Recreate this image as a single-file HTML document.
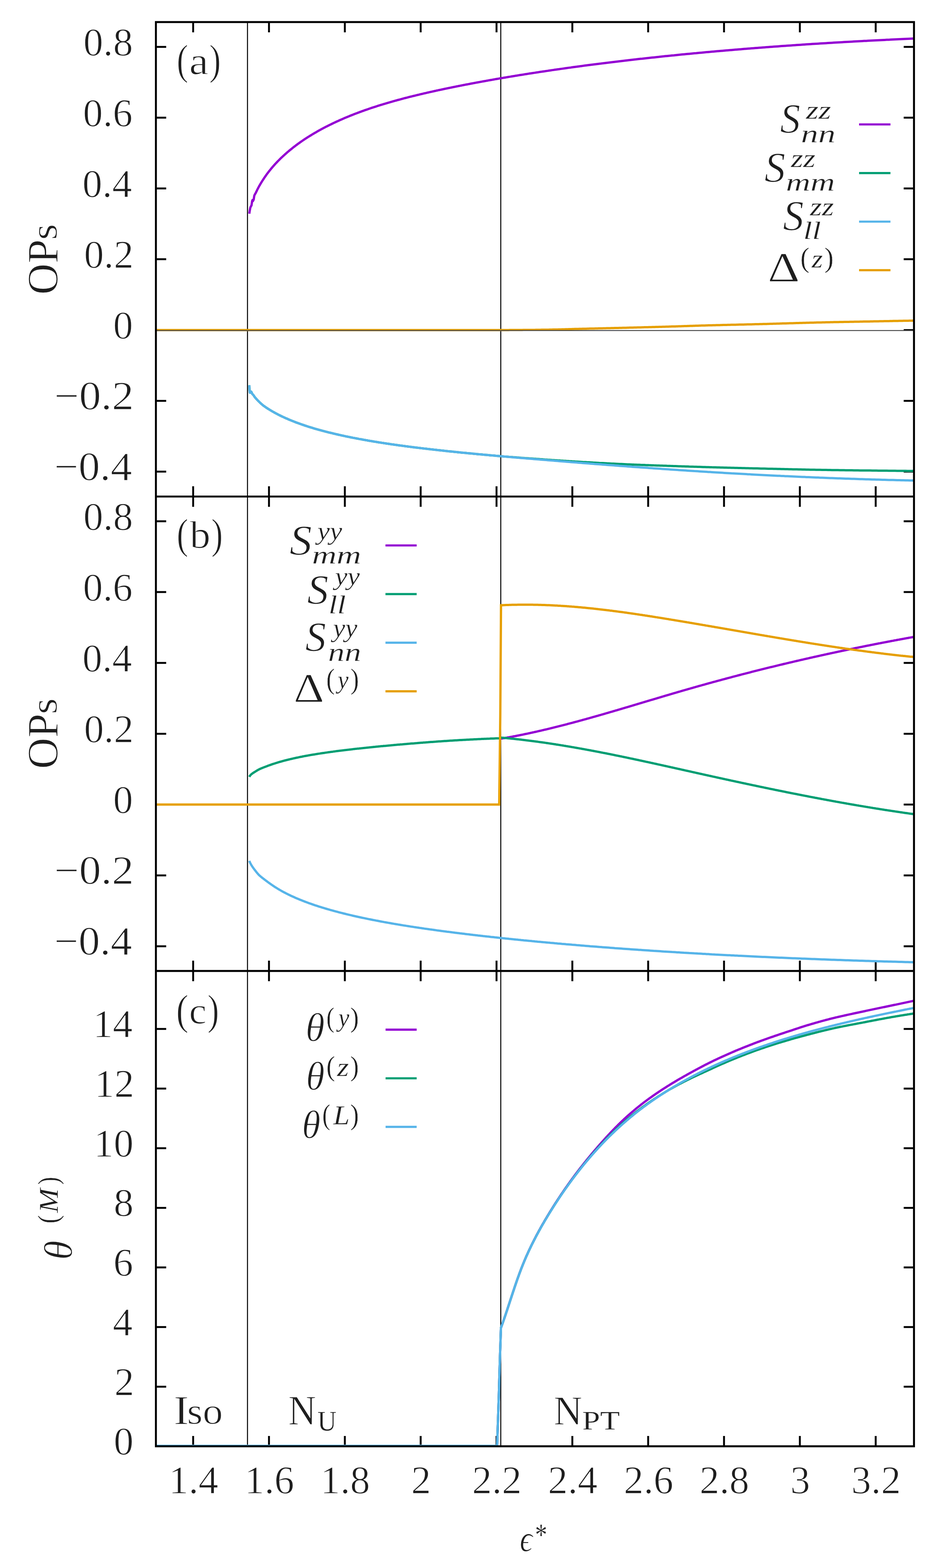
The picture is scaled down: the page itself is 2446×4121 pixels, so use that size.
<!DOCTYPE html><html><head><meta charset="utf-8"><style>html,body{margin:0;padding:0;background:#fff;}svg{display:block;}text{font-family:"Liberation Serif",serif;fill:#1e1e1e;stroke:#fff;font-kerning:none;}</style></head><body>
<svg xmlns="http://www.w3.org/2000/svg" width="2446" height="4121" viewBox="0 0 2446 4121">
<rect x="0" y="0" width="2446" height="4121" fill="#fff"/>
<path d="M507.5,58.0 V85.0 M507.5,1305.0 V1278.0 M507.5,1305.0 V1332.0 M507.5,2551.8 V2524.8 M507.5,2551.8 V2578.8 M507.5,3801.1 V3774.1 M706.7,58.0 V85.0 M706.7,1305.0 V1278.0 M706.7,1305.0 V1332.0 M706.7,2551.8 V2524.8 M706.7,2551.8 V2578.8 M706.7,3801.1 V3774.1 M906.0,58.0 V85.0 M906.0,1305.0 V1278.0 M906.0,1305.0 V1332.0 M906.0,2551.8 V2524.8 M906.0,2551.8 V2578.8 M906.0,3801.1 V3774.1 M1105.2,58.0 V85.0 M1105.2,1305.0 V1278.0 M1105.2,1305.0 V1332.0 M1105.2,2551.8 V2524.8 M1105.2,2551.8 V2578.8 M1105.2,3801.1 V3774.1 M1304.5,58.0 V85.0 M1304.5,1305.0 V1278.0 M1304.5,1305.0 V1332.0 M1304.5,2551.8 V2524.8 M1304.5,2551.8 V2578.8 M1304.5,3801.1 V3774.1 M1503.7,58.0 V85.0 M1503.7,1305.0 V1278.0 M1503.7,1305.0 V1332.0 M1503.7,2551.8 V2524.8 M1503.7,2551.8 V2578.8 M1503.7,3801.1 V3774.1 M1702.9,58.0 V85.0 M1702.9,1305.0 V1278.0 M1702.9,1305.0 V1332.0 M1702.9,2551.8 V2524.8 M1702.9,2551.8 V2578.8 M1702.9,3801.1 V3774.1 M1902.2,58.0 V85.0 M1902.2,1305.0 V1278.0 M1902.2,1305.0 V1332.0 M1902.2,2551.8 V2524.8 M1902.2,2551.8 V2578.8 M1902.2,3801.1 V3774.1 M2101.4,58.0 V85.0 M2101.4,1305.0 V1278.0 M2101.4,1305.0 V1332.0 M2101.4,2551.8 V2524.8 M2101.4,2551.8 V2578.8 M2101.4,3801.1 V3774.1 M2300.7,58.0 V85.0 M2300.7,1305.0 V1278.0 M2300.7,1305.0 V1332.0 M2300.7,2551.8 V2524.8 M2300.7,2551.8 V2578.8 M2300.7,3801.1 V3774.1 M409.6,1239.5 H436.6 M2401.3,1239.5 H2374.3 M409.6,2486.9 H436.6 M2401.3,2486.9 H2374.3 M409.6,1053.5 H436.6 M2401.3,1053.5 H2374.3 M409.6,2300.8 H436.6 M2401.3,2300.8 H2374.3 M409.6,867.4 H436.6 M2401.3,867.4 H2374.3 M409.6,2114.6 H436.6 M2401.3,2114.6 H2374.3 M409.6,681.3 H436.6 M2401.3,681.3 H2374.3 M409.6,1928.4 H436.6 M2401.3,1928.4 H2374.3 M409.6,495.3 H436.6 M2401.3,495.3 H2374.3 M409.6,1742.3 H436.6 M2401.3,1742.3 H2374.3 M409.6,309.2 H436.6 M2401.3,309.2 H2374.3 M409.6,1556.1 H436.6 M2401.3,1556.1 H2374.3 M409.6,123.2 H436.6 M2401.3,123.2 H2374.3 M409.6,1370.0 H436.6 M2401.3,1370.0 H2374.3 M409.6,3644.4 H436.6 M2401.3,3644.4 H2374.3 M409.6,3487.7 H436.6 M2401.3,3487.7 H2374.3 M409.6,3331.1 H436.6 M2401.3,3331.1 H2374.3 M409.6,3174.4 H436.6 M2401.3,3174.4 H2374.3 M409.6,3017.7 H436.6 M2401.3,3017.7 H2374.3 M409.6,2861.0 H436.6 M2401.3,2861.0 H2374.3 M409.6,2704.3 H436.6 M2401.3,2704.3 H2374.3" stroke="#000" stroke-width="5.0" fill="none"/>
<line x1="650.2" y1="58.0" x2="650.2" y2="3801.1" stroke="#000" stroke-width="2.6"/>
<line x1="1315.7" y1="58.0" x2="1315.7" y2="3801.1" stroke="#000" stroke-width="2.6"/>
<path d="M655.0,561.6 L655.5,557.8 L656.1,554.0 L656.8,550.3 L657.4,547.0 L658.1,544.5 L659.2,542.6 L660.8,539.7 L661.2,536.9 L661.7,533.8 L662.1,530.7 L662.5,528.1 L663.5,525.7 L664.4,528.5 L666.4,524.8 L667.0,521.4 L667.5,517.9 L668.0,514.9 L668.6,512.9 L669.7,510.9 L670.9,508.9 L672.1,506.6 L673.3,504.1 L674.6,501.5 L675.9,498.8 L677.3,496.0 L678.7,493.4 L680.1,490.7 L681.5,488.1 L683.0,485.6 L684.5,483.0 L686.1,480.4 L687.7,477.8 L689.3,475.2 L691.0,472.6 L692.7,470.0 L694.4,467.4 L696.2,464.8 L698.0,462.2 L699.8,459.6 L701.7,457.0 L703.6,454.4 L705.6,451.9 L707.5,449.4 L709.6,446.8 L711.6,444.3 L713.7,441.8 L715.8,439.3 L718.0,436.8 L720.2,434.3 L722.4,431.8 L724.7,429.3 L727.0,426.9 L729.3,424.4 L731.7,422.0 L734.1,419.6 L736.5,417.2 L739.0,414.7 L741.5,412.4 L744.1,410.0 L746.7,407.6 L749.3,405.2 L751.9,402.9 L754.6,400.5 L757.4,398.2 L760.1,395.9 L762.9,393.6 L765.8,391.3 L768.6,389.0 L771.5,386.7 L774.5,384.5 L777.4,382.2 L780.4,380.0 L783.5,377.7 L786.6,375.5 L789.7,373.3 L792.8,371.1 L796.0,368.9 L799.2,366.8 L802.5,364.6 L805.8,362.5 L809.1,360.3 L812.5,358.2 L815.9,356.1 L817.6,355.1 L819.3,354.0 L821.0,353.0 L822.8,351.9 L824.5,350.9 L826.3,349.9 L828.0,348.8 L829.8,347.8 L831.6,346.8 L833.4,345.7 L835.2,344.7 L837.0,343.7 L838.8,342.7 L840.7,341.7 L842.5,340.7 L844.3,339.7 L846.2,338.7 L848.0,337.7 L849.9,336.7 L851.8,335.7 L853.7,334.7 L855.6,333.7 L857.5,332.7 L859.4,331.8 L861.3,330.8 L863.3,329.8 L865.2,328.8 L867.2,327.9 L869.1,326.9 L871.1,326.0 L873.1,325.0 L875.1,324.0 L877.1,323.1 L879.1,322.1 L881.1,321.2 L883.1,320.3 L885.1,319.3 L887.2,318.4 L889.2,317.5 L891.3,316.5 L893.3,315.6 L895.4,314.7 L897.5,313.8 L899.6,312.9 L901.7,311.9 L903.8,311.0 L905.9,310.1 L908.0,309.2 L910.2,308.3 L912.3,307.4 L914.5,306.5 L916.6,305.7 L918.8,304.8 L921.0,303.9 L923.2,303.0 L925.4,302.1 L927.6,301.3 L929.8,300.4 L932.0,299.5 L934.3,298.7 L936.5,297.8 L938.8,297.0 L941.0,296.1 L943.3,295.3 L945.6,294.4 L947.9,293.6 L950.2,292.7 L952.5,291.9 L954.8,291.1 L957.1,290.2 L959.4,289.4 L961.8,288.6 L964.1,287.8 L966.5,287.0 L968.8,286.2 L971.2,285.3 L973.6,284.5 L976.0,283.7 L978.4,282.9 L980.8,282.1 L983.2,281.4 L985.7,280.6 L988.1,279.8 L990.5,279.0 L993.0,278.2 L995.5,277.4 L997.9,276.7 L1000.4,275.9 L1002.9,275.1 L1005.4,274.4 L1007.9,273.6 L1010.4,272.8 L1013.0,272.1 L1015.5,271.3 L1018.0,270.6 L1020.6,269.8 L1023.2,269.1 L1025.7,268.4 L1028.3,267.6 L1030.9,266.9 L1033.5,266.1 L1036.1,265.4 L1038.7,264.7 L1041.3,264.0 L1044.0,263.2 L1046.6,262.5 L1049.3,261.8 L1051.9,261.1 L1054.6,260.4 L1057.3,259.7 L1059.9,258.9 L1062.6,258.2 L1065.3,257.5 L1068.1,256.8 L1070.8,256.1 L1073.5,255.4 L1076.2,254.7 L1079.0,254.0 L1081.7,253.4 L1084.5,252.7 L1087.3,252.0 L1090.1,251.3 L1092.9,250.6 L1095.7,249.9 L1098.5,249.3 L1101.3,248.6 L1104.1,247.9 L1107.0,247.2 L1109.8,246.6 L1112.6,245.9 L1115.5,245.2 L1118.4,244.6 L1121.3,243.9 L1124.2,243.2 L1127.0,242.6 L1130.0,241.9 L1132.9,241.3 L1135.8,240.6 L1138.7,240.0 L1141.7,239.3 L1144.6,238.7 L1147.6,238.0 L1150.5,237.4 L1153.5,236.7 L1156.5,236.1 L1159.5,235.5 L1162.5,234.8 L1165.5,234.2 L1168.5,233.5 L1171.6,232.9 L1174.6,232.3 L1177.7,231.6 L1180.7,231.0 L1183.8,230.4 L1186.9,229.7 L1189.9,229.1 L1193.0,228.5 L1196.1,227.9 L1199.2,227.2 L1202.4,226.6 L1205.5,226.0 L1208.6,225.4 L1211.8,224.8 L1214.9,224.1 L1218.1,223.5 L1221.3,222.9 L1224.4,222.3 L1227.6,221.7 L1230.8,221.1 L1234.0,220.5 L1237.3,219.8 L1240.5,219.2 L1243.7,218.6 L1247.0,218.0 L1250.2,217.4 L1253.5,216.8 L1256.7,216.2 L1260.0,215.6 L1263.3,215.0 L1266.6,214.4 L1269.9,213.8 L1273.2,213.2 L1276.5,212.6 L1279.9,212.0 L1283.2,211.4 L1286.6,210.8 L1289.9,210.2 L1293.3,209.6 L1296.7,209.0 L1300.0,208.4 L1303.4,207.8 L1306.8,207.2 L1310.2,206.6 L1313.7,206.0 L1317.1,205.5 L1320.5,204.9 L1324.0,204.3 L1327.4,203.7 L1330.9,203.1 L1334.4,202.5 L1337.9,201.9 L1341.3,201.4 L1344.8,200.8 L1348.4,200.2 L1351.9,199.6 L1355.4,199.0 L1358.9,198.5 L1362.5,197.9 L1366.0,197.3 L1369.6,196.7 L1373.2,196.2 L1376.7,195.6 L1380.3,195.0 L1383.9,194.5 L1387.5,193.9 L1391.1,193.3 L1394.8,192.8 L1398.4,192.2 L1402.0,191.6 L1405.7,191.1 L1409.3,190.5 L1413.0,190.0 L1416.7,189.4 L1420.4,188.8 L1424.1,188.3 L1427.8,187.7 L1431.5,187.2 L1435.2,186.6 L1438.9,186.1 L1442.7,185.5 L1446.4,185.0 L1450.2,184.4 L1453.9,183.9 L1457.7,183.3 L1461.5,182.8 L1465.3,182.2 L1469.1,181.7 L1472.9,181.1 L1476.7,180.6 L1480.5,180.1 L1484.4,179.5 L1488.2,179.0 L1492.1,178.4 L1495.9,177.9 L1499.8,177.4 L1503.7,176.8 L1507.6,176.3 L1511.5,175.8 L1515.4,175.3 L1519.3,174.7 L1523.2,174.2 L1527.1,173.7 L1531.1,173.1 L1535.0,172.6 L1539.0,172.1 L1543.0,171.6 L1546.9,171.1 L1550.9,170.5 L1554.9,170.0 L1558.9,169.5 L1562.9,169.0 L1567.0,168.5 L1571.0,168.0 L1575.0,167.5 L1579.1,167.0 L1583.1,166.4 L1587.2,165.9 L1591.3,165.4 L1595.3,164.9 L1599.4,164.4 L1603.5,163.9 L1607.6,163.4 L1611.8,162.9 L1615.9,162.4 L1620.0,161.9 L1624.2,161.4 L1628.3,160.9 L1632.5,160.4 L1636.7,159.9 L1640.8,159.5 L1645.0,159.0 L1649.2,158.5 L1653.4,158.0 L1657.7,157.5 L1661.9,157.0 L1666.1,156.5 L1670.4,156.1 L1674.6,155.6 L1678.9,155.1 L1683.1,154.6 L1687.4,154.2 L1691.7,153.7 L1696.0,153.2 L1700.3,152.7 L1704.6,152.3 L1708.9,151.8 L1713.3,151.3 L1717.6,150.9 L1722.0,150.4 L1726.3,149.9 L1730.7,149.5 L1735.0,149.0 L1739.4,148.5 L1743.8,148.1 L1748.2,147.6 L1752.6,147.2 L1757.1,146.7 L1761.5,146.3 L1765.9,145.8 L1770.4,145.4 L1774.8,144.9 L1779.3,144.5 L1783.8,144.0 L1788.2,143.6 L1792.7,143.1 L1797.2,142.7 L1801.7,142.3 L1806.3,141.8 L1810.8,141.4 L1815.3,141.0 L1819.9,140.5 L1824.4,140.1 L1829.0,139.7 L1833.5,139.2 L1838.1,138.8 L1842.7,138.4 L1847.3,137.9 L1851.9,137.5 L1856.5,137.1 L1861.1,136.7 L1865.8,136.3 L1870.4,135.8 L1875.1,135.4 L1879.7,135.0 L1884.4,134.6 L1889.1,134.2 L1893.7,133.8 L1898.4,133.4 L1903.1,133.0 L1907.9,132.6 L1912.6,132.2 L1917.3,131.8 L1922.0,131.4 L1926.8,131.0 L1931.5,130.6 L1936.3,130.2 L1941.1,129.8 L1945.9,129.4 L1950.6,129.0 L1955.4,128.6 L1960.3,128.2 L1965.1,127.8 L1969.9,127.4 L1974.7,127.1 L1979.6,126.7 L1984.4,126.3 L1989.3,125.9 L1994.2,125.5 L1999.0,125.2 L2003.9,124.8 L2008.8,124.4 L2013.7,124.0 L2018.6,123.7 L2023.6,123.3 L2028.5,122.9 L2033.4,122.6 L2038.4,122.2 L2043.4,121.9 L2048.3,121.5 L2053.3,121.1 L2058.3,120.8 L2063.3,120.4 L2068.3,120.1 L2073.3,119.7 L2078.3,119.4 L2083.3,119.0 L2088.4,118.7 L2093.4,118.3 L2098.5,118.0 L2103.5,117.7 L2108.6,117.3 L2113.7,117.0 L2118.8,116.6 L2123.9,116.3 L2129.0,116.0 L2134.1,115.6 L2139.2,115.3 L2144.4,115.0 L2149.5,114.7 L2154.7,114.3 L2159.8,114.0 L2165.0,113.7 L2170.2,113.4 L2175.4,113.1 L2180.6,112.7 L2185.8,112.4 L2191.0,112.1 L2196.2,111.8 L2201.5,111.5 L2206.7,111.2 L2212.0,110.9 L2217.2,110.6 L2222.5,110.3 L2227.8,110.0 L2233.0,109.7 L2238.3,109.4 L2243.6,109.1 L2249.0,108.8 L2254.3,108.5 L2259.6,108.2 L2264.9,107.9 L2270.3,107.6 L2275.7,107.4 L2281.0,107.1 L2286.4,106.8 L2291.8,106.5 L2297.2,106.2 L2302.6,106.0 L2308.0,105.7 L2313.4,105.4 L2318.8,105.2 L2324.3,104.9 L2329.7,104.6 L2335.2,104.4 L2340.6,104.1 L2346.1,103.8 L2351.6,103.6 L2357.1,103.3 L2362.6,103.1 L2368.1,102.8 L2373.6,102.6 L2379.1,102.3 L2384.6,102.1 L2390.2,101.8 L2395.7,101.6 L2401.3,101.3" fill="none" stroke="#9400d3" stroke-width="6.00" stroke-linejoin="round" stroke-linecap="butt"/>
<path d="M655.0,1012.5 L655.3,1018.4 L655.5,1023.2 L655.8,1026.8 L656.1,1029.4 L656.8,1032.2 L658.5,1030.7 L659.6,1029.1 L661.2,1031.3 L662.1,1033.6 L663.0,1035.7 L664.9,1037.3 L666.4,1039.1 L667.5,1040.8 L668.6,1042.6 L670.3,1044.8 L672.1,1046.9 L674.0,1048.9 L675.9,1051.0 L678.0,1053.2 L679.4,1054.6 L680.8,1056.0 L682.3,1057.5 L683.8,1058.9 L685.3,1060.3 L686.9,1061.7 L688.5,1063.1 L690.1,1064.5 L691.8,1065.8 L693.5,1067.1 L695.3,1068.3 L697.1,1069.6 L698.9,1070.9 L700.8,1072.1 L702.7,1073.4 L704.6,1074.6 L706.6,1075.8 L708.6,1077.1 L710.6,1078.3 L712.7,1079.5 L714.8,1080.8 L716.9,1082.0 L719.1,1083.2 L721.3,1084.5 L723.5,1085.7 L725.8,1086.9 L728.2,1088.1 L730.5,1089.4 L732.9,1090.6 L735.3,1091.8 L737.8,1093.0 L740.3,1094.2 L742.8,1095.4 L745.4,1096.6 L748.0,1097.8 L750.6,1099.0 L753.3,1100.1 L756.0,1101.3 L758.7,1102.5 L761.5,1103.7 L764.3,1104.8 L767.2,1106.0 L770.1,1107.1 L773.0,1108.3 L775.9,1109.4 L778.9,1110.6 L782.0,1111.7 L785.0,1112.8 L788.1,1113.9 L791.3,1115.0 L794.4,1116.1 L797.6,1117.2 L800.9,1118.3 L804.1,1119.4 L807.4,1120.5 L810.8,1121.6 L814.2,1122.6 L817.6,1123.7 L821.0,1124.7 L824.5,1125.8 L828.0,1126.8 L831.6,1127.8 L835.2,1128.8 L838.8,1129.9 L842.5,1130.9 L846.2,1131.9 L849.9,1132.9 L853.7,1133.8 L857.5,1134.8 L861.3,1135.8 L865.2,1136.8 L867.2,1137.3 L869.1,1137.7 L871.1,1138.2 L873.1,1138.7 L875.1,1139.2 L877.1,1139.6 L879.1,1140.1 L881.1,1140.6 L883.1,1141.1 L885.1,1141.5 L887.2,1142.0 L889.2,1142.5 L891.3,1142.9 L893.3,1143.4 L895.4,1143.8 L897.5,1144.3 L899.6,1144.8 L901.7,1145.2 L903.8,1145.7 L905.9,1146.1 L908.0,1146.6 L910.2,1147.0 L912.3,1147.5 L914.5,1147.9 L916.6,1148.4 L918.8,1148.8 L921.0,1149.2 L923.2,1149.7 L925.4,1150.1 L927.6,1150.6 L929.8,1151.0 L932.0,1151.4 L934.3,1151.9 L936.5,1152.3 L938.8,1152.7 L941.0,1153.1 L943.3,1153.6 L945.6,1154.0 L947.9,1154.4 L950.2,1154.8 L952.5,1155.3 L954.8,1155.7 L957.1,1156.1 L959.4,1156.5 L961.8,1156.9 L964.1,1157.3 L966.5,1157.8 L968.8,1158.2 L971.2,1158.6 L973.6,1159.0 L976.0,1159.4 L978.4,1159.8 L980.8,1160.2 L983.2,1160.6 L985.7,1161.0 L988.1,1161.4 L990.5,1161.8 L993.0,1162.2 L995.5,1162.6 L997.9,1163.0 L1000.4,1163.4 L1002.9,1163.8 L1005.4,1164.1 L1007.9,1164.5 L1010.4,1164.9 L1013.0,1165.3 L1015.5,1165.7 L1018.0,1166.1 L1020.6,1166.4 L1023.2,1166.8 L1025.7,1167.2 L1028.3,1167.6 L1030.9,1168.0 L1033.5,1168.3 L1036.1,1168.7 L1038.7,1169.1 L1041.3,1169.4 L1044.0,1169.8 L1046.6,1170.2 L1049.3,1170.5 L1051.9,1170.9 L1054.6,1171.3 L1057.3,1171.6 L1059.9,1172.0 L1062.6,1172.3 L1065.3,1172.7 L1068.1,1173.1 L1070.8,1173.4 L1073.5,1173.8 L1076.2,1174.1 L1079.0,1174.5 L1081.7,1174.8 L1084.5,1175.2 L1087.3,1175.5 L1090.1,1175.9 L1092.9,1176.2 L1095.7,1176.6 L1098.5,1176.9 L1101.3,1177.3 L1104.1,1177.6 L1107.0,1177.9 L1109.8,1178.3 L1112.6,1178.6 L1115.5,1179.0 L1118.4,1179.3 L1121.3,1179.6 L1124.2,1180.0 L1127.0,1180.3 L1130.0,1180.6 L1132.9,1181.0 L1135.8,1181.3 L1138.7,1181.6 L1141.7,1182.0 L1144.6,1182.3 L1147.6,1182.6 L1150.5,1183.0 L1153.5,1183.3 L1156.5,1183.6 L1159.5,1183.9 L1162.5,1184.3 L1165.5,1184.6 L1168.5,1184.9 L1171.6,1185.2 L1174.6,1185.6 L1177.7,1185.9 L1180.7,1186.2 L1183.8,1186.5 L1186.9,1186.8 L1189.9,1187.1 L1193.0,1187.5 L1196.1,1187.8 L1199.2,1188.1 L1202.4,1188.4 L1205.5,1188.7 L1208.6,1189.0 L1211.8,1189.4 L1214.9,1189.7 L1218.1,1190.0 L1221.3,1190.3 L1224.4,1190.6 L1227.6,1190.9 L1230.8,1191.2 L1234.0,1191.5 L1237.3,1191.8 L1240.5,1192.1 L1243.7,1192.5 L1247.0,1192.8 L1250.2,1193.1 L1253.5,1193.4 L1256.7,1193.7 L1260.0,1194.0 L1263.3,1194.3 L1266.6,1194.6 L1269.9,1194.9 L1273.2,1195.2 L1276.5,1195.5 L1279.9,1195.8 L1283.2,1196.1 L1286.6,1196.4 L1289.9,1196.7 L1293.3,1197.0 L1296.7,1197.3 L1300.0,1197.6 L1303.4,1197.9 L1306.8,1198.2 L1310.2,1198.5 L1313.7,1198.8 L1317.1,1199.1 L1320.5,1199.4 L1324.0,1199.7 L1327.4,1199.9 L1330.9,1200.2 L1334.4,1200.5 L1337.9,1200.8 L1341.3,1201.0 L1344.8,1201.3 L1348.4,1201.6 L1351.9,1201.8 L1355.4,1202.1 L1358.9,1202.4 L1362.5,1202.6 L1366.0,1202.9 L1369.6,1203.2 L1373.2,1203.4 L1376.7,1203.7 L1380.3,1204.0 L1383.9,1204.2 L1387.5,1204.5 L1391.1,1204.8 L1394.8,1205.0 L1398.4,1205.3 L1402.0,1205.6 L1405.7,1205.8 L1409.3,1206.1 L1413.0,1206.3 L1416.7,1206.6 L1420.4,1206.9 L1424.1,1207.1 L1427.8,1207.4 L1431.5,1207.7 L1435.2,1207.9 L1438.9,1208.2 L1442.7,1208.4 L1446.4,1208.7 L1450.2,1209.0 L1453.9,1209.2 L1457.7,1209.5 L1461.5,1209.7 L1465.3,1210.0 L1469.1,1210.2 L1472.9,1210.5 L1476.7,1210.7 L1480.5,1211.0 L1484.4,1211.2 L1488.2,1211.5 L1492.1,1211.7 L1495.9,1212.0 L1499.8,1212.2 L1503.7,1212.5 L1507.6,1212.7 L1511.5,1213.0 L1515.4,1213.2 L1519.3,1213.4 L1523.2,1213.7 L1527.1,1213.9 L1531.1,1214.2 L1535.0,1214.4 L1539.0,1214.6 L1543.0,1214.9 L1546.9,1215.1 L1550.9,1215.3 L1554.9,1215.5 L1558.9,1215.8 L1562.9,1216.0 L1567.0,1216.2 L1571.0,1216.4 L1575.0,1216.7 L1579.1,1216.9 L1583.1,1217.1 L1587.2,1217.3 L1591.3,1217.5 L1595.3,1217.8 L1599.4,1218.0 L1603.5,1218.2 L1607.6,1218.4 L1611.8,1218.6 L1615.9,1218.8 L1620.0,1219.0 L1624.2,1219.2 L1628.3,1219.4 L1632.5,1219.6 L1636.7,1219.8 L1640.8,1220.0 L1645.0,1220.2 L1649.2,1220.4 L1653.4,1220.5 L1657.7,1220.7 L1661.9,1220.9 L1666.1,1221.1 L1670.4,1221.2 L1674.6,1221.4 L1678.9,1221.6 L1683.1,1221.8 L1687.4,1221.9 L1691.7,1222.1 L1696.0,1222.3 L1700.3,1222.4 L1704.6,1222.6 L1708.9,1222.7 L1713.3,1222.9 L1717.6,1223.1 L1722.0,1223.2 L1726.3,1223.4 L1730.7,1223.5 L1735.0,1223.7 L1739.4,1223.8 L1743.8,1224.0 L1748.2,1224.1 L1752.6,1224.3 L1757.1,1224.4 L1761.5,1224.6 L1765.9,1224.7 L1770.4,1224.9 L1774.8,1225.0 L1779.3,1225.2 L1783.8,1225.4 L1788.2,1225.5 L1792.7,1225.7 L1797.2,1225.8 L1801.7,1226.0 L1806.3,1226.1 L1810.8,1226.3 L1815.3,1226.4 L1819.9,1226.6 L1824.4,1226.7 L1829.0,1226.8 L1833.5,1227.0 L1838.1,1227.1 L1842.7,1227.3 L1847.3,1227.4 L1851.9,1227.5 L1856.5,1227.7 L1861.1,1227.8 L1865.8,1227.9 L1870.4,1228.1 L1875.1,1228.2 L1879.7,1228.3 L1884.4,1228.5 L1889.1,1228.6 L1893.7,1228.7 L1898.4,1228.8 L1903.1,1229.0 L1907.9,1229.1 L1912.6,1229.2 L1917.3,1229.3 L1922.0,1229.4 L1926.8,1229.6 L1931.5,1229.7 L1936.3,1229.8 L1941.1,1229.9 L1945.9,1230.1 L1950.6,1230.2 L1955.4,1230.3 L1960.3,1230.4 L1965.1,1230.5 L1969.9,1230.7 L1974.7,1230.8 L1979.6,1230.9 L1984.4,1231.0 L1989.3,1231.1 L1994.2,1231.3 L1999.0,1231.4 L2003.9,1231.5 L2008.8,1231.6 L2013.7,1231.7 L2018.6,1231.9 L2023.6,1232.0 L2028.5,1232.1 L2033.4,1232.2 L2038.4,1232.3 L2043.4,1232.5 L2048.3,1232.6 L2053.3,1232.7 L2058.3,1232.8 L2063.3,1232.9 L2068.3,1233.0 L2073.3,1233.2 L2078.3,1233.3 L2083.3,1233.4 L2088.4,1233.5 L2093.4,1233.6 L2098.5,1233.7 L2103.5,1233.8 L2108.6,1233.9 L2113.7,1234.0 L2118.8,1234.2 L2123.9,1234.3 L2129.0,1234.4 L2134.1,1234.5 L2139.2,1234.6 L2144.4,1234.7 L2149.5,1234.8 L2154.7,1234.8 L2159.8,1234.9 L2165.0,1235.0 L2170.2,1235.1 L2175.4,1235.2 L2180.6,1235.3 L2185.8,1235.4 L2191.0,1235.5 L2196.2,1235.5 L2201.5,1235.6 L2206.7,1235.7 L2212.0,1235.8 L2217.2,1235.8 L2222.5,1235.9 L2227.8,1236.0 L2233.0,1236.0 L2238.3,1236.1 L2243.6,1236.2 L2249.0,1236.2 L2254.3,1236.3 L2259.6,1236.4 L2264.9,1236.4 L2270.3,1236.5 L2275.7,1236.5 L2281.0,1236.6 L2286.4,1236.6 L2291.8,1236.7 L2297.2,1236.8 L2302.6,1236.8 L2308.0,1236.9 L2313.4,1237.0 L2318.8,1237.0 L2324.3,1237.1 L2329.7,1237.1 L2335.2,1237.2 L2340.6,1237.2 L2346.1,1237.3 L2351.6,1237.3 L2357.1,1237.4 L2362.6,1237.4 L2368.1,1237.5 L2373.6,1237.6 L2379.1,1237.6 L2384.6,1237.7 L2390.2,1237.7 L2395.7,1237.8 L2401.3,1237.8" fill="none" stroke="#009e73" stroke-width="6.00" stroke-linejoin="round" stroke-linecap="butt"/>
<path d="M655.0,1012.5 L655.3,1018.4 L655.5,1023.2 L655.8,1026.8 L656.1,1029.4 L656.8,1032.2 L658.5,1030.7 L659.6,1029.1 L661.2,1031.3 L662.1,1033.6 L663.0,1035.7 L664.9,1037.3 L666.4,1039.1 L667.5,1040.8 L668.6,1042.6 L670.3,1044.8 L672.1,1046.9 L674.0,1048.9 L675.9,1051.0 L678.0,1053.2 L679.4,1054.6 L680.8,1056.0 L682.3,1057.5 L683.8,1058.9 L685.3,1060.3 L686.9,1061.7 L688.5,1063.1 L690.1,1064.5 L691.8,1065.8 L693.5,1067.1 L695.3,1068.3 L697.1,1069.6 L698.9,1070.9 L700.8,1072.1 L702.7,1073.4 L704.6,1074.6 L706.6,1075.8 L708.6,1077.1 L710.6,1078.3 L712.7,1079.5 L714.8,1080.8 L716.9,1082.0 L719.1,1083.2 L721.3,1084.5 L723.5,1085.7 L725.8,1086.9 L728.2,1088.1 L730.5,1089.4 L732.9,1090.6 L735.3,1091.8 L737.8,1093.0 L740.3,1094.2 L742.8,1095.4 L745.4,1096.6 L748.0,1097.8 L750.6,1099.0 L753.3,1100.1 L756.0,1101.3 L758.7,1102.5 L761.5,1103.7 L764.3,1104.8 L767.2,1106.0 L770.1,1107.1 L773.0,1108.3 L775.9,1109.4 L778.9,1110.6 L782.0,1111.7 L785.0,1112.8 L788.1,1113.9 L791.3,1115.0 L794.4,1116.1 L797.6,1117.2 L800.9,1118.3 L804.1,1119.4 L807.4,1120.5 L810.8,1121.6 L814.2,1122.6 L817.6,1123.7 L821.0,1124.7 L824.5,1125.8 L828.0,1126.8 L831.6,1127.8 L835.2,1128.8 L838.8,1129.9 L842.5,1130.9 L846.2,1131.9 L849.9,1132.9 L853.7,1133.8 L857.5,1134.8 L861.3,1135.8 L865.2,1136.8 L867.2,1137.3 L869.1,1137.7 L871.1,1138.2 L873.1,1138.7 L875.1,1139.2 L877.1,1139.6 L879.1,1140.1 L881.1,1140.6 L883.1,1141.1 L885.1,1141.5 L887.2,1142.0 L889.2,1142.5 L891.3,1142.9 L893.3,1143.4 L895.4,1143.8 L897.5,1144.3 L899.6,1144.8 L901.7,1145.2 L903.8,1145.7 L905.9,1146.1 L908.0,1146.6 L910.2,1147.0 L912.3,1147.5 L914.5,1147.9 L916.6,1148.4 L918.8,1148.8 L921.0,1149.2 L923.2,1149.7 L925.4,1150.1 L927.6,1150.6 L929.8,1151.0 L932.0,1151.4 L934.3,1151.9 L936.5,1152.3 L938.8,1152.7 L941.0,1153.1 L943.3,1153.6 L945.6,1154.0 L947.9,1154.4 L950.2,1154.8 L952.5,1155.3 L954.8,1155.7 L957.1,1156.1 L959.4,1156.5 L961.8,1156.9 L964.1,1157.3 L966.5,1157.8 L968.8,1158.2 L971.2,1158.6 L973.6,1159.0 L976.0,1159.4 L978.4,1159.8 L980.8,1160.2 L983.2,1160.6 L985.7,1161.0 L988.1,1161.4 L990.5,1161.8 L993.0,1162.2 L995.5,1162.6 L997.9,1163.0 L1000.4,1163.4 L1002.9,1163.8 L1005.4,1164.1 L1007.9,1164.5 L1010.4,1164.9 L1013.0,1165.3 L1015.5,1165.7 L1018.0,1166.1 L1020.6,1166.4 L1023.2,1166.8 L1025.7,1167.2 L1028.3,1167.6 L1030.9,1168.0 L1033.5,1168.3 L1036.1,1168.7 L1038.7,1169.1 L1041.3,1169.4 L1044.0,1169.8 L1046.6,1170.2 L1049.3,1170.5 L1051.9,1170.9 L1054.6,1171.3 L1057.3,1171.6 L1059.9,1172.0 L1062.6,1172.3 L1065.3,1172.7 L1068.1,1173.1 L1070.8,1173.4 L1073.5,1173.8 L1076.2,1174.1 L1079.0,1174.5 L1081.7,1174.8 L1084.5,1175.2 L1087.3,1175.5 L1090.1,1175.9 L1092.9,1176.2 L1095.7,1176.6 L1098.5,1176.9 L1101.3,1177.3 L1104.1,1177.6 L1107.0,1177.9 L1109.8,1178.3 L1112.6,1178.6 L1115.5,1179.0 L1118.4,1179.3 L1121.3,1179.6 L1124.2,1180.0 L1127.0,1180.3 L1130.0,1180.6 L1132.9,1181.0 L1135.8,1181.3 L1138.7,1181.6 L1141.7,1182.0 L1144.6,1182.3 L1147.6,1182.6 L1150.5,1183.0 L1153.5,1183.3 L1156.5,1183.6 L1159.5,1183.9 L1162.5,1184.3 L1165.5,1184.6 L1168.5,1184.9 L1171.6,1185.2 L1174.6,1185.6 L1177.7,1185.9 L1180.7,1186.2 L1183.8,1186.5 L1186.9,1186.8 L1189.9,1187.1 L1193.0,1187.5 L1196.1,1187.8 L1199.2,1188.1 L1202.4,1188.4 L1205.5,1188.7 L1208.6,1189.0 L1211.8,1189.4 L1214.9,1189.7 L1218.1,1190.0 L1221.3,1190.3 L1224.4,1190.6 L1227.6,1190.9 L1230.8,1191.2 L1234.0,1191.5 L1237.3,1191.8 L1240.5,1192.1 L1243.7,1192.5 L1247.0,1192.8 L1250.2,1193.1 L1253.5,1193.4 L1256.7,1193.7 L1260.0,1194.0 L1263.3,1194.3 L1266.6,1194.6 L1269.9,1194.9 L1273.2,1195.2 L1276.5,1195.5 L1279.9,1195.8 L1283.2,1196.1 L1286.6,1196.4 L1289.9,1196.7 L1293.3,1197.0 L1296.7,1197.3 L1300.0,1197.6 L1303.4,1197.9 L1306.8,1198.2 L1310.2,1198.5 L1313.7,1198.8 L1317.1,1199.1 L1320.5,1199.4 L1324.0,1199.7 L1327.4,1200.0 L1330.9,1200.3 L1334.4,1200.7 L1337.9,1201.0 L1341.3,1201.3 L1344.8,1201.6 L1348.4,1201.9 L1351.9,1202.2 L1355.4,1202.5 L1358.9,1202.8 L1362.5,1203.1 L1366.0,1203.4 L1369.6,1203.7 L1373.2,1204.0 L1376.7,1204.3 L1380.3,1204.6 L1383.9,1204.9 L1387.5,1205.2 L1391.1,1205.5 L1394.8,1205.8 L1398.4,1206.1 L1402.0,1206.4 L1405.7,1206.7 L1409.3,1207.0 L1413.0,1207.3 L1416.7,1207.6 L1420.4,1207.9 L1424.1,1208.2 L1427.8,1208.5 L1431.5,1208.8 L1435.2,1209.1 L1438.9,1209.4 L1442.7,1209.7 L1446.4,1210.0 L1450.2,1210.3 L1453.9,1210.6 L1457.7,1211.0 L1461.5,1211.3 L1465.3,1211.6 L1469.1,1211.9 L1472.9,1212.2 L1476.7,1212.5 L1480.5,1212.8 L1484.4,1213.1 L1488.2,1213.4 L1492.1,1213.7 L1495.9,1214.0 L1499.8,1214.4 L1503.7,1214.7 L1507.6,1215.0 L1511.5,1215.3 L1515.4,1215.6 L1519.3,1215.9 L1523.2,1216.2 L1527.1,1216.5 L1531.1,1216.9 L1535.0,1217.2 L1539.0,1217.5 L1543.0,1217.8 L1546.9,1218.1 L1550.9,1218.4 L1554.9,1218.7 L1558.9,1219.0 L1562.9,1219.4 L1567.0,1219.7 L1571.0,1220.0 L1575.0,1220.3 L1579.1,1220.6 L1583.1,1220.9 L1587.2,1221.2 L1591.3,1221.6 L1595.3,1221.9 L1599.4,1222.2 L1603.5,1222.5 L1607.6,1222.8 L1611.8,1223.1 L1615.9,1223.4 L1620.0,1223.7 L1624.2,1224.1 L1628.3,1224.4 L1632.5,1224.7 L1636.7,1225.0 L1640.8,1225.3 L1645.0,1225.6 L1649.2,1225.9 L1653.4,1226.2 L1657.7,1226.6 L1661.9,1226.9 L1666.1,1227.2 L1670.4,1227.5 L1674.6,1227.8 L1678.9,1228.1 L1683.1,1228.4 L1687.4,1228.7 L1691.7,1229.0 L1696.0,1229.3 L1700.3,1229.6 L1704.6,1230.0 L1708.9,1230.3 L1713.3,1230.6 L1717.6,1230.9 L1722.0,1231.2 L1726.3,1231.5 L1730.7,1231.8 L1735.0,1232.1 L1739.4,1232.4 L1743.8,1232.7 L1748.2,1233.0 L1752.6,1233.3 L1757.1,1233.6 L1761.5,1233.9 L1765.9,1234.2 L1770.4,1234.5 L1774.8,1234.8 L1779.3,1235.1 L1783.8,1235.4 L1788.2,1235.7 L1792.7,1236.0 L1797.2,1236.3 L1801.7,1236.6 L1806.3,1236.9 L1810.8,1237.2 L1815.3,1237.5 L1819.9,1237.8 L1824.4,1238.1 L1829.0,1238.3 L1833.5,1238.6 L1838.1,1238.9 L1842.7,1239.2 L1847.3,1239.5 L1851.9,1239.8 L1856.5,1240.1 L1861.1,1240.4 L1865.8,1240.6 L1870.4,1240.9 L1875.1,1241.2 L1879.7,1241.5 L1884.4,1241.8 L1889.1,1242.0 L1893.7,1242.3 L1898.4,1242.6 L1903.1,1242.9 L1907.9,1243.2 L1912.6,1243.4 L1917.3,1243.7 L1922.0,1244.0 L1926.8,1244.2 L1931.5,1244.5 L1936.3,1244.8 L1941.1,1245.1 L1945.9,1245.3 L1950.6,1245.6 L1955.4,1245.8 L1960.3,1246.1 L1965.1,1246.4 L1969.9,1246.6 L1974.7,1246.9 L1979.6,1247.2 L1984.4,1247.4 L1989.3,1247.7 L1994.2,1247.9 L1999.0,1248.2 L2003.9,1248.4 L2008.8,1248.7 L2013.7,1248.9 L2018.6,1249.2 L2023.6,1249.4 L2028.5,1249.7 L2033.4,1249.9 L2038.4,1250.2 L2043.4,1250.4 L2048.3,1250.6 L2053.3,1250.9 L2058.3,1251.1 L2063.3,1251.4 L2068.3,1251.6 L2073.3,1251.8 L2078.3,1252.1 L2083.3,1252.3 L2088.4,1252.5 L2093.4,1252.7 L2098.5,1253.0 L2103.5,1253.2 L2108.6,1253.4 L2113.7,1253.6 L2118.8,1253.9 L2123.9,1254.1 L2129.0,1254.3 L2134.1,1254.5 L2139.2,1254.7 L2144.4,1254.9 L2149.5,1255.1 L2154.7,1255.4 L2159.8,1255.6 L2165.0,1255.8 L2170.2,1256.0 L2175.4,1256.2 L2180.6,1256.4 L2185.8,1256.6 L2191.0,1256.8 L2196.2,1257.0 L2201.5,1257.2 L2206.7,1257.3 L2212.0,1257.5 L2217.2,1257.7 L2222.5,1257.9 L2227.8,1258.1 L2233.0,1258.3 L2238.3,1258.5 L2243.6,1258.6 L2249.0,1258.8 L2254.3,1259.0 L2259.6,1259.2 L2264.9,1259.3 L2270.3,1259.5 L2275.7,1259.7 L2281.0,1259.8 L2286.4,1260.0 L2291.8,1260.2 L2297.2,1260.3 L2302.6,1260.5 L2308.0,1260.6 L2313.4,1260.8 L2318.8,1260.9 L2324.3,1261.1 L2329.7,1261.2 L2335.2,1261.4 L2340.6,1261.5 L2346.1,1261.6 L2351.6,1261.8 L2357.1,1261.9 L2362.6,1262.0 L2368.1,1262.2 L2373.6,1262.3 L2379.1,1262.4 L2384.6,1262.6 L2390.2,1262.7 L2395.7,1262.8 L2401.3,1262.9" fill="none" stroke="#56b4e9" stroke-width="6.00" stroke-linejoin="round" stroke-linecap="butt"/>
<path d="M409.6,867.4 L1315.0,867.4 L1318.0,867.4 L1321.0,867.4 L1324.0,867.4 L1327.0,867.4 L1330.0,867.4 L1333.0,867.4 L1336.0,867.4 L1339.0,867.3 L1342.0,867.3 L1345.0,867.3 L1348.0,867.3 L1351.0,867.3 L1354.0,867.3 L1357.0,867.2 L1360.0,867.2 L1363.0,867.2 L1366.0,867.2 L1369.0,867.2 L1372.0,867.2 L1375.0,867.1 L1378.0,867.1 L1381.0,867.1 L1384.0,867.1 L1387.0,867.0 L1390.0,867.0 L1393.0,867.0 L1396.0,867.0 L1399.0,866.9 L1402.0,866.9 L1405.0,866.9 L1408.0,866.8 L1411.0,866.8 L1414.0,866.8 L1417.0,866.7 L1420.0,866.7 L1423.0,866.6 L1426.0,866.6 L1429.0,866.5 L1432.0,866.5 L1435.0,866.4 L1438.0,866.4 L1441.0,866.4 L1444.0,866.3 L1447.0,866.3 L1450.0,866.2 L1453.0,866.1 L1456.0,866.1 L1459.0,866.0 L1462.0,866.0 L1465.0,865.9 L1468.0,865.8 L1471.0,865.7 L1474.0,865.7 L1477.0,865.6 L1480.0,865.5 L1483.0,865.4 L1486.0,865.3 L1489.0,865.3 L1492.0,865.2 L1495.0,865.1 L1498.0,865.0 L1501.0,864.9 L1504.0,864.8 L1507.0,864.7 L1510.0,864.6 L1513.0,864.6 L1516.0,864.5 L1519.0,864.4 L1522.0,864.3 L1525.0,864.2 L1528.0,864.2 L1531.0,864.1 L1534.0,864.0 L1537.0,863.9 L1540.0,863.9 L1543.0,863.8 L1546.0,863.7 L1549.0,863.6 L1552.0,863.6 L1555.0,863.5 L1558.0,863.4 L1561.0,863.4 L1564.0,863.3 L1567.0,863.2 L1570.0,863.2 L1573.0,863.1 L1576.0,863.0 L1579.0,862.9 L1582.0,862.9 L1585.0,862.8 L1588.0,862.7 L1591.0,862.7 L1594.0,862.6 L1597.0,862.5 L1600.0,862.5 L1603.0,862.4 L1606.0,862.3 L1609.0,862.2 L1612.0,862.2 L1615.0,862.1 L1618.0,862.0 L1621.0,862.0 L1624.0,861.9 L1627.0,861.8 L1630.0,861.7 L1633.0,861.7 L1636.0,861.6 L1639.0,861.5 L1642.0,861.4 L1645.0,861.4 L1648.0,861.3 L1651.0,861.2 L1654.0,861.1 L1657.0,861.1 L1660.0,861.0 L1663.0,860.9 L1666.0,860.8 L1669.0,860.8 L1672.0,860.7 L1675.0,860.6 L1678.0,860.5 L1681.0,860.4 L1684.0,860.4 L1687.0,860.3 L1690.0,860.2 L1693.0,860.1 L1696.0,860.1 L1699.0,860.0 L1702.0,859.9 L1705.0,859.8 L1708.0,859.7 L1711.0,859.7 L1714.0,859.6 L1717.0,859.5 L1720.0,859.4 L1723.0,859.3 L1726.0,859.3 L1729.0,859.2 L1732.0,859.1 L1735.0,859.0 L1738.0,858.9 L1741.0,858.8 L1744.0,858.8 L1747.0,858.7 L1750.0,858.6 L1753.0,858.5 L1756.0,858.4 L1759.0,858.3 L1762.0,858.2 L1765.0,858.1 L1768.0,858.0 L1771.0,858.0 L1774.0,857.9 L1777.0,857.8 L1780.0,857.7 L1783.0,857.6 L1786.0,857.5 L1789.0,857.4 L1792.0,857.3 L1795.0,857.2 L1798.0,857.1 L1801.0,857.0 L1804.0,856.9 L1807.0,856.8 L1810.0,856.7 L1813.0,856.6 L1816.0,856.5 L1819.0,856.4 L1822.0,856.3 L1825.0,856.2 L1828.0,856.1 L1831.0,856.0 L1834.0,855.9 L1837.0,855.8 L1840.0,855.7 L1843.0,855.6 L1846.0,855.6 L1849.0,855.5 L1852.0,855.4 L1855.0,855.3 L1858.0,855.2 L1861.0,855.1 L1864.0,855.1 L1867.0,855.0 L1870.0,854.9 L1873.0,854.8 L1876.0,854.7 L1879.0,854.7 L1882.0,854.6 L1885.0,854.5 L1888.0,854.4 L1891.0,854.4 L1894.0,854.3 L1897.0,854.2 L1900.0,854.1 L1903.0,854.1 L1906.0,854.0 L1909.0,853.9 L1912.0,853.8 L1915.0,853.8 L1918.0,853.7 L1921.0,853.6 L1924.0,853.6 L1927.0,853.5 L1930.0,853.4 L1933.0,853.4 L1936.0,853.3 L1939.0,853.2 L1942.0,853.1 L1945.0,853.1 L1948.0,853.0 L1951.0,852.9 L1954.0,852.9 L1957.0,852.8 L1960.0,852.7 L1963.0,852.6 L1966.0,852.6 L1969.0,852.5 L1972.0,852.4 L1975.0,852.4 L1978.0,852.3 L1981.0,852.2 L1984.0,852.1 L1987.0,852.1 L1990.0,852.0 L1993.0,851.9 L1996.0,851.8 L1999.0,851.8 L2002.0,851.7 L2005.0,851.6 L2008.0,851.5 L2011.0,851.4 L2014.0,851.4 L2017.0,851.3 L2020.0,851.2 L2023.0,851.1 L2026.0,851.0 L2029.0,850.9 L2032.0,850.8 L2035.0,850.8 L2038.0,850.7 L2041.0,850.6 L2044.0,850.5 L2047.0,850.4 L2050.0,850.3 L2053.0,850.2 L2056.0,850.1 L2059.0,850.1 L2062.0,850.0 L2065.0,849.9 L2068.0,849.8 L2071.0,849.7 L2074.0,849.6 L2077.0,849.5 L2080.0,849.4 L2083.0,849.4 L2086.0,849.3 L2089.0,849.2 L2092.0,849.1 L2095.0,849.0 L2098.0,848.9 L2101.0,848.8 L2104.0,848.7 L2107.0,848.7 L2110.0,848.6 L2113.0,848.5 L2116.0,848.4 L2119.0,848.3 L2122.0,848.3 L2125.0,848.2 L2128.0,848.1 L2131.0,848.0 L2134.0,847.9 L2137.0,847.9 L2140.0,847.8 L2143.0,847.7 L2146.0,847.6 L2149.0,847.6 L2152.0,847.5 L2155.0,847.4 L2158.0,847.4 L2161.0,847.3 L2164.0,847.2 L2167.0,847.2 L2170.0,847.1 L2173.0,847.0 L2176.0,847.0 L2179.0,846.9 L2182.0,846.8 L2185.0,846.8 L2188.0,846.7 L2191.0,846.6 L2194.0,846.6 L2197.0,846.5 L2200.0,846.5 L2203.0,846.4 L2206.0,846.3 L2209.0,846.3 L2212.0,846.2 L2215.0,846.2 L2218.0,846.1 L2221.0,846.1 L2224.0,846.0 L2227.0,845.9 L2230.0,845.9 L2233.0,845.8 L2236.0,845.8 L2239.0,845.7 L2242.0,845.7 L2245.0,845.6 L2248.0,845.5 L2251.0,845.5 L2254.0,845.4 L2257.0,845.4 L2260.0,845.3 L2263.0,845.3 L2266.0,845.2 L2269.0,845.1 L2272.0,845.1 L2275.0,845.0 L2278.0,845.0 L2281.0,844.9 L2284.0,844.9 L2287.0,844.8 L2290.0,844.7 L2293.0,844.7 L2296.0,844.6 L2299.0,844.6 L2302.0,844.5 L2305.0,844.5 L2308.0,844.4 L2311.0,844.3 L2314.0,844.3 L2317.0,844.2 L2320.0,844.2 L2323.0,844.1 L2326.0,844.0 L2329.0,844.0 L2332.0,843.9 L2335.0,843.9 L2338.0,843.8 L2341.0,843.8 L2344.0,843.7 L2347.0,843.6 L2350.0,843.6 L2353.0,843.5 L2356.0,843.5 L2359.0,843.4 L2362.0,843.3 L2365.0,843.3 L2368.0,843.2 L2371.0,843.2 L2374.0,843.1 L2377.0,843.1 L2380.0,843.0 L2383.0,842.9 L2386.0,842.9 L2389.0,842.8 L2392.0,842.8 L2395.0,842.7 L2398.0,842.7 L2401.0,842.6 L2401.3,842.6" fill="none" stroke="#e69f00" stroke-width="6.00" stroke-linejoin="round" stroke-linecap="butt"/>
<line x1="409.6" y1="868.7" x2="2401.3" y2="868.7" stroke="#4a4a4a" stroke-width="2.4"/>
<path d="M1315.7,1941.4 L1317.7,1941.1 L1319.7,1940.8 L1321.7,1940.4 L1323.7,1940.1 L1325.7,1939.7 L1327.7,1939.4 L1329.7,1939.0 L1331.7,1938.7 L1333.7,1938.3 L1335.7,1937.9 L1337.7,1937.6 L1339.7,1937.2 L1341.7,1936.8 L1343.7,1936.5 L1345.7,1936.1 L1347.7,1935.7 L1349.7,1935.3 L1351.7,1934.9 L1353.7,1934.6 L1355.7,1934.2 L1357.7,1933.8 L1359.7,1933.4 L1361.7,1933.0 L1363.7,1932.6 L1365.7,1932.2 L1367.7,1931.8 L1369.7,1931.4 L1371.7,1931.0 L1373.7,1930.6 L1375.7,1930.2 L1377.7,1929.7 L1379.7,1929.3 L1381.7,1928.9 L1383.7,1928.5 L1385.7,1928.1 L1387.7,1927.6 L1389.7,1927.2 L1391.7,1926.8 L1393.7,1926.3 L1395.7,1925.9 L1397.7,1925.5 L1399.7,1925.0 L1401.7,1924.6 L1403.7,1924.1 L1405.7,1923.7 L1407.7,1923.3 L1409.7,1922.8 L1411.7,1922.4 L1413.7,1921.9 L1415.7,1921.4 L1417.7,1921.0 L1419.7,1920.5 L1421.7,1920.1 L1423.7,1919.6 L1425.7,1919.1 L1427.7,1918.7 L1429.7,1918.2 L1431.7,1917.7 L1433.7,1917.3 L1435.7,1916.8 L1437.7,1916.3 L1439.7,1915.8 L1441.7,1915.3 L1443.7,1914.9 L1445.7,1914.4 L1447.7,1913.9 L1449.7,1913.4 L1451.7,1912.9 L1453.7,1912.4 L1455.7,1911.9 L1457.7,1911.4 L1459.7,1910.9 L1461.7,1910.4 L1463.7,1909.9 L1465.7,1909.4 L1467.7,1908.9 L1469.7,1908.4 L1471.7,1907.9 L1473.7,1907.4 L1475.7,1906.9 L1477.7,1906.4 L1479.7,1905.9 L1481.7,1905.3 L1483.7,1904.8 L1485.7,1904.3 L1487.7,1903.8 L1489.7,1903.3 L1491.7,1902.7 L1493.7,1902.2 L1495.7,1901.7 L1497.7,1901.2 L1499.7,1900.6 L1501.7,1900.1 L1503.7,1899.6 L1505.7,1899.0 L1507.7,1898.5 L1509.7,1898.0 L1511.7,1897.4 L1513.7,1896.9 L1515.7,1896.4 L1517.7,1895.8 L1519.7,1895.3 L1521.7,1894.7 L1523.7,1894.2 L1525.7,1893.6 L1527.7,1893.1 L1529.7,1892.5 L1531.7,1892.0 L1533.7,1891.4 L1535.7,1890.9 L1537.7,1890.3 L1539.7,1889.8 L1541.7,1889.2 L1543.7,1888.7 L1545.7,1888.1 L1547.7,1887.6 L1549.7,1887.0 L1551.7,1886.4 L1553.7,1885.9 L1555.7,1885.3 L1557.7,1884.7 L1559.7,1884.2 L1561.7,1883.6 L1563.7,1883.0 L1565.7,1882.5 L1567.7,1881.9 L1569.7,1881.3 L1571.7,1880.8 L1573.7,1880.2 L1575.7,1879.6 L1577.7,1879.1 L1579.7,1878.5 L1581.7,1877.9 L1583.7,1877.3 L1585.7,1876.8 L1587.7,1876.2 L1589.7,1875.6 L1591.7,1875.0 L1593.7,1874.4 L1595.7,1873.9 L1597.7,1873.3 L1599.7,1872.7 L1601.7,1872.1 L1603.7,1871.5 L1605.7,1870.9 L1607.7,1870.4 L1609.7,1869.8 L1611.7,1869.2 L1613.7,1868.6 L1615.7,1868.0 L1617.7,1867.4 L1619.7,1866.8 L1621.7,1866.3 L1623.7,1865.7 L1625.7,1865.1 L1627.7,1864.5 L1629.7,1863.9 L1631.7,1863.3 L1633.7,1862.7 L1635.7,1862.1 L1637.7,1861.5 L1639.7,1860.9 L1641.7,1860.3 L1643.7,1859.7 L1645.7,1859.2 L1647.7,1858.6 L1649.7,1858.0 L1651.7,1857.4 L1653.7,1856.8 L1655.7,1856.2 L1657.7,1855.6 L1659.7,1855.0 L1661.7,1854.4 L1663.7,1853.8 L1665.7,1853.2 L1667.7,1852.6 L1669.7,1852.0 L1671.7,1851.4 L1673.7,1850.8 L1675.7,1850.2 L1677.7,1849.6 L1679.7,1849.0 L1681.7,1848.4 L1683.7,1847.8 L1685.7,1847.2 L1687.7,1846.6 L1689.7,1846.0 L1691.7,1845.4 L1693.7,1844.8 L1695.7,1844.2 L1697.7,1843.6 L1699.7,1843.0 L1701.7,1842.4 L1703.7,1841.8 L1705.7,1841.2 L1707.7,1840.6 L1709.7,1840.0 L1711.7,1839.4 L1713.7,1838.9 L1715.7,1838.3 L1717.7,1837.7 L1719.7,1837.1 L1721.7,1836.5 L1723.7,1835.9 L1725.7,1835.3 L1727.7,1834.7 L1729.7,1834.1 L1731.7,1833.5 L1733.7,1832.9 L1735.7,1832.3 L1737.7,1831.7 L1739.7,1831.1 L1741.7,1830.5 L1743.7,1829.9 L1745.7,1829.3 L1747.7,1828.7 L1749.7,1828.1 L1751.7,1827.5 L1753.7,1827.0 L1755.7,1826.4 L1757.7,1825.8 L1759.7,1825.2 L1761.7,1824.6 L1763.7,1824.0 L1765.7,1823.4 L1767.7,1822.8 L1769.7,1822.2 L1771.7,1821.7 L1773.7,1821.1 L1775.7,1820.5 L1777.7,1819.9 L1779.7,1819.3 L1781.7,1818.7 L1783.7,1818.1 L1785.7,1817.6 L1787.7,1817.0 L1789.7,1816.4 L1791.7,1815.8 L1793.7,1815.2 L1795.7,1814.7 L1797.7,1814.1 L1799.7,1813.5 L1801.7,1812.9 L1803.7,1812.4 L1805.7,1811.8 L1807.7,1811.2 L1809.7,1810.6 L1811.7,1810.1 L1813.7,1809.5 L1815.7,1808.9 L1817.7,1808.3 L1819.7,1807.8 L1821.7,1807.2 L1823.7,1806.6 L1825.7,1806.1 L1827.7,1805.5 L1829.7,1804.9 L1831.7,1804.4 L1833.7,1803.8 L1835.7,1803.2 L1837.7,1802.7 L1839.7,1802.1 L1841.7,1801.6 L1843.7,1801.0 L1845.7,1800.4 L1847.7,1799.9 L1849.7,1799.3 L1851.7,1798.8 L1853.7,1798.2 L1855.7,1797.7 L1857.7,1797.1 L1859.7,1796.5 L1861.7,1796.0 L1863.7,1795.4 L1865.7,1794.9 L1867.7,1794.3 L1869.7,1793.8 L1871.7,1793.2 L1873.7,1792.7 L1875.7,1792.1 L1877.7,1791.6 L1879.7,1791.1 L1881.7,1790.5 L1883.7,1790.0 L1885.7,1789.4 L1887.7,1788.9 L1889.7,1788.3 L1891.7,1787.8 L1893.7,1787.3 L1895.7,1786.7 L1897.7,1786.2 L1899.7,1785.6 L1901.7,1785.1 L1903.7,1784.6 L1905.7,1784.0 L1907.7,1783.5 L1909.7,1783.0 L1911.7,1782.4 L1913.7,1781.9 L1915.7,1781.4 L1917.7,1780.8 L1919.7,1780.3 L1921.7,1779.8 L1923.7,1779.2 L1925.7,1778.7 L1927.7,1778.2 L1929.7,1777.6 L1931.7,1777.1 L1933.7,1776.6 L1935.7,1776.1 L1937.7,1775.5 L1939.7,1775.0 L1941.7,1774.5 L1943.7,1774.0 L1945.7,1773.5 L1947.7,1772.9 L1949.7,1772.4 L1951.7,1771.9 L1953.7,1771.4 L1955.7,1770.9 L1957.7,1770.4 L1959.7,1769.8 L1961.7,1769.3 L1963.7,1768.8 L1965.7,1768.3 L1967.7,1767.8 L1969.7,1767.3 L1971.7,1766.8 L1973.7,1766.2 L1975.7,1765.7 L1977.7,1765.2 L1979.7,1764.7 L1981.7,1764.2 L1983.7,1763.7 L1985.7,1763.2 L1987.7,1762.7 L1989.7,1762.2 L1991.7,1761.7 L1993.7,1761.2 L1995.7,1760.7 L1997.7,1760.2 L1999.7,1759.7 L2001.7,1759.2 L2003.7,1758.7 L2005.7,1758.2 L2007.7,1757.7 L2009.7,1757.2 L2011.7,1756.7 L2013.7,1756.2 L2015.7,1755.7 L2017.7,1755.2 L2019.7,1754.7 L2021.7,1754.2 L2023.7,1753.7 L2025.7,1753.2 L2027.7,1752.8 L2029.7,1752.3 L2031.7,1751.8 L2033.7,1751.3 L2035.7,1750.8 L2037.7,1750.3 L2039.7,1749.8 L2041.7,1749.3 L2043.7,1748.9 L2045.7,1748.4 L2047.7,1747.9 L2049.7,1747.4 L2051.7,1746.9 L2053.7,1746.5 L2055.7,1746.0 L2057.7,1745.5 L2059.7,1745.0 L2061.7,1744.5 L2063.7,1744.1 L2065.7,1743.6 L2067.7,1743.1 L2069.7,1742.6 L2071.7,1742.2 L2073.7,1741.7 L2075.7,1741.2 L2077.7,1740.8 L2079.7,1740.3 L2081.7,1739.8 L2083.7,1739.3 L2085.7,1738.9 L2087.7,1738.4 L2089.7,1737.9 L2091.7,1737.5 L2093.7,1737.0 L2095.7,1736.5 L2097.7,1736.1 L2099.7,1735.6 L2101.7,1735.1 L2103.7,1734.7 L2105.7,1734.2 L2107.7,1733.8 L2109.7,1733.3 L2111.7,1732.8 L2113.7,1732.4 L2115.7,1731.9 L2117.7,1731.5 L2119.7,1731.0 L2121.7,1730.6 L2123.7,1730.1 L2125.7,1729.7 L2127.7,1729.2 L2129.7,1728.7 L2131.7,1728.3 L2133.7,1727.8 L2135.7,1727.4 L2137.7,1726.9 L2139.7,1726.5 L2141.7,1726.0 L2143.7,1725.6 L2145.7,1725.2 L2147.7,1724.7 L2149.7,1724.3 L2151.7,1723.8 L2153.7,1723.4 L2155.7,1722.9 L2157.7,1722.5 L2159.7,1722.0 L2161.7,1721.6 L2163.7,1721.2 L2165.7,1720.7 L2167.7,1720.3 L2169.7,1719.9 L2171.7,1719.4 L2173.7,1719.0 L2175.7,1718.5 L2177.7,1718.1 L2179.7,1717.7 L2181.7,1717.2 L2183.7,1716.8 L2185.7,1716.4 L2187.7,1715.9 L2189.7,1715.5 L2191.7,1715.1 L2193.7,1714.6 L2195.7,1714.2 L2197.7,1713.8 L2199.7,1713.4 L2201.7,1712.9 L2203.7,1712.5 L2205.7,1712.1 L2207.7,1711.7 L2209.7,1711.2 L2211.7,1710.8 L2213.7,1710.4 L2215.7,1710.0 L2217.7,1709.6 L2219.7,1709.1 L2221.7,1708.7 L2223.7,1708.3 L2225.7,1707.9 L2227.7,1707.5 L2229.7,1707.0 L2231.7,1706.6 L2233.7,1706.2 L2235.7,1705.8 L2237.7,1705.4 L2239.7,1705.0 L2241.7,1704.6 L2243.7,1704.1 L2245.7,1703.7 L2247.7,1703.3 L2249.7,1702.9 L2251.7,1702.5 L2253.7,1702.1 L2255.7,1701.7 L2257.7,1701.3 L2259.7,1700.9 L2261.7,1700.5 L2263.7,1700.1 L2265.7,1699.7 L2267.7,1699.3 L2269.7,1698.9 L2271.7,1698.5 L2273.7,1698.0 L2275.7,1697.6 L2277.7,1697.2 L2279.7,1696.8 L2281.7,1696.5 L2283.7,1696.1 L2285.7,1695.7 L2287.7,1695.3 L2289.7,1694.9 L2291.7,1694.5 L2293.7,1694.1 L2295.7,1693.7 L2297.7,1693.3 L2299.7,1692.9 L2301.7,1692.5 L2303.7,1692.1 L2305.7,1691.7 L2307.7,1691.3 L2309.7,1690.9 L2311.7,1690.6 L2313.7,1690.2 L2315.7,1689.8 L2317.7,1689.4 L2319.7,1689.0 L2321.7,1688.6 L2323.7,1688.2 L2325.7,1687.9 L2327.7,1687.5 L2329.7,1687.1 L2331.7,1686.7 L2333.7,1686.3 L2335.7,1686.0 L2337.7,1685.6 L2339.7,1685.2 L2341.7,1684.8 L2343.7,1684.4 L2345.7,1684.1 L2347.7,1683.7 L2349.7,1683.3 L2351.7,1682.9 L2353.7,1682.6 L2355.7,1682.2 L2357.7,1681.8 L2359.7,1681.4 L2361.7,1681.1 L2363.7,1680.7 L2365.7,1680.3 L2367.7,1680.0 L2369.7,1679.6 L2371.7,1679.2 L2373.7,1678.9 L2375.7,1678.5 L2377.7,1678.1 L2379.7,1677.8 L2381.7,1677.4 L2383.7,1677.0 L2385.7,1676.7 L2387.7,1676.3 L2389.7,1675.9 L2391.7,1675.6 L2393.7,1675.2 L2395.7,1674.9 L2397.7,1674.5 L2399.7,1674.2 L2401.3,1673.9" fill="none" stroke="#9400d3" stroke-width="6.00" stroke-linejoin="round" stroke-linecap="butt"/>
<path d="M655.0,2041.7 L656.1,2039.7 L657.4,2038.0 L658.8,2036.4 L660.4,2034.9 L662.1,2033.6 L663.9,2032.3 L665.9,2030.9 L668.0,2029.6 L670.3,2028.2 L672.1,2027.0 L674.0,2025.9 L675.9,2024.7 L678.0,2023.5 L680.1,2022.4 L682.3,2021.3 L684.5,2020.2 L686.9,2019.2 L689.3,2018.2 L691.8,2017.3 L694.4,2016.3 L697.1,2015.3 L699.8,2014.2 L701.7,2013.5 L703.6,2012.7 L705.6,2012.0 L707.5,2011.3 L709.6,2010.6 L711.6,2009.9 L713.7,2009.1 L715.8,2008.4 L718.0,2007.7 L720.2,2007.0 L722.4,2006.3 L724.7,2005.5 L727.0,2004.8 L729.3,2004.1 L731.7,2003.4 L734.1,2002.7 L736.5,2002.0 L739.0,2001.3 L741.5,2000.6 L744.1,1999.9 L746.7,1999.2 L749.3,1998.5 L751.9,1997.8 L754.6,1997.2 L757.4,1996.5 L760.1,1995.8 L762.9,1995.1 L765.8,1994.5 L768.6,1993.8 L771.5,1993.1 L774.5,1992.5 L777.4,1991.8 L780.4,1991.2 L783.5,1990.6 L786.6,1989.9 L789.7,1989.3 L792.8,1988.7 L796.0,1988.0 L799.2,1987.4 L802.5,1986.8 L805.8,1986.2 L809.1,1985.6 L812.5,1985.0 L815.9,1984.4 L819.3,1983.8 L822.8,1983.2 L826.3,1982.7 L829.8,1982.1 L833.4,1981.5 L837.0,1980.9 L840.7,1980.4 L844.3,1979.8 L848.0,1979.2 L851.8,1978.7 L855.6,1978.1 L859.4,1977.6 L863.3,1977.0 L867.2,1976.5 L871.1,1975.9 L875.1,1975.4 L877.1,1975.1 L879.1,1974.9 L881.1,1974.6 L883.1,1974.3 L885.1,1974.1 L887.2,1973.8 L889.2,1973.5 L891.3,1973.3 L893.3,1973.0 L895.4,1972.7 L897.5,1972.5 L899.6,1972.2 L901.7,1972.0 L903.8,1971.7 L905.9,1971.4 L908.0,1971.2 L910.2,1970.9 L912.3,1970.7 L914.5,1970.4 L916.6,1970.2 L918.8,1969.9 L921.0,1969.7 L923.2,1969.4 L925.4,1969.2 L927.6,1968.9 L929.8,1968.6 L932.0,1968.4 L934.3,1968.1 L936.5,1967.9 L938.8,1967.6 L941.0,1967.4 L943.3,1967.2 L945.6,1966.9 L947.9,1966.7 L950.2,1966.4 L952.5,1966.2 L954.8,1965.9 L957.1,1965.7 L959.4,1965.4 L961.8,1965.2 L964.1,1964.9 L966.5,1964.7 L968.8,1964.5 L971.2,1964.2 L973.6,1964.0 L976.0,1963.7 L978.4,1963.5 L980.8,1963.2 L983.2,1963.0 L985.7,1962.8 L988.1,1962.5 L990.5,1962.3 L993.0,1962.1 L995.5,1961.8 L997.9,1961.6 L1000.4,1961.3 L1002.9,1961.1 L1005.4,1960.9 L1007.9,1960.6 L1010.4,1960.4 L1013.0,1960.2 L1015.5,1959.9 L1018.0,1959.7 L1020.6,1959.4 L1023.2,1959.2 L1025.7,1959.0 L1028.3,1958.7 L1030.9,1958.5 L1033.5,1958.3 L1036.1,1958.0 L1038.7,1957.8 L1041.3,1957.6 L1044.0,1957.3 L1046.6,1957.1 L1049.3,1956.9 L1051.9,1956.6 L1054.6,1956.4 L1057.3,1956.2 L1059.9,1955.9 L1062.6,1955.7 L1065.3,1955.5 L1068.1,1955.3 L1070.8,1955.0 L1073.5,1954.8 L1076.2,1954.6 L1079.0,1954.3 L1081.7,1954.1 L1084.5,1953.9 L1087.3,1953.7 L1090.1,1953.4 L1092.9,1953.2 L1095.7,1953.0 L1098.5,1952.7 L1101.3,1952.5 L1104.1,1952.3 L1107.0,1952.1 L1109.8,1951.9 L1112.6,1951.6 L1115.5,1951.4 L1118.4,1951.2 L1121.3,1951.0 L1124.2,1950.8 L1127.0,1950.5 L1130.0,1950.3 L1132.9,1950.1 L1135.8,1949.9 L1138.7,1949.7 L1141.7,1949.5 L1144.6,1949.3 L1147.6,1949.0 L1150.5,1948.8 L1153.5,1948.6 L1156.5,1948.4 L1159.5,1948.2 L1162.5,1948.0 L1165.5,1947.8 L1168.5,1947.6 L1171.6,1947.4 L1174.6,1947.2 L1177.7,1947.0 L1180.7,1946.8 L1183.8,1946.6 L1186.9,1946.4 L1189.9,1946.2 L1193.0,1946.0 L1196.1,1945.8 L1199.2,1945.7 L1202.4,1945.5 L1205.5,1945.3 L1208.6,1945.1 L1211.8,1944.9 L1214.9,1944.7 L1218.1,1944.6 L1221.3,1944.4 L1224.4,1944.2 L1227.6,1944.0 L1230.8,1943.9 L1234.0,1943.7 L1237.3,1943.5 L1240.5,1943.4 L1243.7,1943.2 L1247.0,1943.0 L1250.2,1942.9 L1253.5,1942.7 L1256.7,1942.6 L1260.0,1942.4 L1263.3,1942.3 L1266.6,1942.1 L1269.9,1942.0 L1273.2,1941.8 L1276.5,1941.7 L1279.9,1941.5 L1283.2,1941.4 L1286.6,1941.3 L1289.9,1941.1 L1293.3,1941.0 L1296.7,1940.9 L1300.0,1940.7 L1303.4,1940.6 L1306.8,1940.5 L1310.2,1940.4 L1313.7,1940.3 L1315.7,1938.6 L1317.7,1938.7 L1319.7,1938.9 L1321.7,1939.1 L1323.7,1939.3 L1325.7,1939.5 L1327.7,1939.6 L1329.7,1939.8 L1331.7,1940.0 L1333.7,1940.2 L1335.7,1940.4 L1337.7,1940.6 L1339.7,1940.8 L1341.7,1941.0 L1343.7,1941.2 L1345.7,1941.4 L1347.7,1941.6 L1349.7,1941.8 L1351.7,1942.0 L1353.7,1942.3 L1355.7,1942.5 L1357.7,1942.7 L1359.7,1942.9 L1361.7,1943.1 L1363.7,1943.4 L1365.7,1943.6 L1367.7,1943.8 L1369.7,1944.0 L1371.7,1944.3 L1373.7,1944.5 L1375.7,1944.7 L1377.7,1945.0 L1379.7,1945.2 L1381.7,1945.5 L1383.7,1945.7 L1385.7,1946.0 L1387.7,1946.2 L1389.7,1946.5 L1391.7,1946.7 L1393.7,1947.0 L1395.7,1947.2 L1397.7,1947.5 L1399.7,1947.7 L1401.7,1948.0 L1403.7,1948.3 L1405.7,1948.5 L1407.7,1948.8 L1409.7,1949.1 L1411.7,1949.3 L1413.7,1949.6 L1415.7,1949.9 L1417.7,1950.2 L1419.7,1950.4 L1421.7,1950.7 L1423.7,1951.0 L1425.7,1951.3 L1427.7,1951.6 L1429.7,1951.8 L1431.7,1952.1 L1433.7,1952.4 L1435.7,1952.7 L1437.7,1953.0 L1439.7,1953.3 L1441.7,1953.6 L1443.7,1953.9 L1445.7,1954.2 L1447.7,1954.5 L1449.7,1954.8 L1451.7,1955.1 L1453.7,1955.4 L1455.7,1955.7 L1457.7,1956.0 L1459.7,1956.3 L1461.7,1956.7 L1463.7,1957.0 L1465.7,1957.3 L1467.7,1957.6 L1469.7,1957.9 L1471.7,1958.2 L1473.7,1958.6 L1475.7,1958.9 L1477.7,1959.2 L1479.7,1959.5 L1481.7,1959.9 L1483.7,1960.2 L1485.7,1960.5 L1487.7,1960.9 L1489.7,1961.2 L1491.7,1961.5 L1493.7,1961.9 L1495.7,1962.2 L1497.7,1962.5 L1499.7,1962.9 L1501.7,1963.2 L1503.7,1963.6 L1505.7,1963.9 L1507.7,1964.3 L1509.7,1964.6 L1511.7,1965.0 L1513.7,1965.3 L1515.7,1965.7 L1517.7,1966.0 L1519.7,1966.4 L1521.7,1966.7 L1523.7,1967.1 L1525.7,1967.4 L1527.7,1967.8 L1529.7,1968.2 L1531.7,1968.5 L1533.7,1968.9 L1535.7,1969.3 L1537.7,1969.6 L1539.7,1970.0 L1541.7,1970.4 L1543.7,1970.7 L1545.7,1971.1 L1547.7,1971.5 L1549.7,1971.8 L1551.7,1972.2 L1553.7,1972.6 L1555.7,1973.0 L1557.7,1973.3 L1559.7,1973.7 L1561.7,1974.1 L1563.7,1974.5 L1565.7,1974.9 L1567.7,1975.3 L1569.7,1975.6 L1571.7,1976.0 L1573.7,1976.4 L1575.7,1976.8 L1577.7,1977.2 L1579.7,1977.6 L1581.7,1978.0 L1583.7,1978.4 L1585.7,1978.7 L1587.7,1979.1 L1589.7,1979.5 L1591.7,1979.9 L1593.7,1980.3 L1595.7,1980.7 L1597.7,1981.1 L1599.7,1981.5 L1601.7,1981.9 L1603.7,1982.3 L1605.7,1982.7 L1607.7,1983.1 L1609.7,1983.5 L1611.7,1983.9 L1613.7,1984.3 L1615.7,1984.8 L1617.7,1985.2 L1619.7,1985.6 L1621.7,1986.0 L1623.7,1986.4 L1625.7,1986.8 L1627.7,1987.2 L1629.7,1987.6 L1631.7,1988.0 L1633.7,1988.4 L1635.7,1988.9 L1637.7,1989.3 L1639.7,1989.7 L1641.7,1990.1 L1643.7,1990.5 L1645.7,1990.9 L1647.7,1991.4 L1649.7,1991.8 L1651.7,1992.2 L1653.7,1992.6 L1655.7,1993.1 L1657.7,1993.5 L1659.7,1993.9 L1661.7,1994.3 L1663.7,1994.7 L1665.7,1995.2 L1667.7,1995.6 L1669.7,1996.0 L1671.7,1996.5 L1673.7,1996.9 L1675.7,1997.3 L1677.7,1997.7 L1679.7,1998.2 L1681.7,1998.6 L1683.7,1999.0 L1685.7,1999.5 L1687.7,1999.9 L1689.7,2000.3 L1691.7,2000.8 L1693.7,2001.2 L1695.7,2001.6 L1697.7,2002.1 L1699.7,2002.5 L1701.7,2002.9 L1703.7,2003.4 L1705.7,2003.8 L1707.7,2004.2 L1709.7,2004.7 L1711.7,2005.1 L1713.7,2005.5 L1715.7,2006.0 L1717.7,2006.4 L1719.7,2006.9 L1721.7,2007.3 L1723.7,2007.7 L1725.7,2008.2 L1727.7,2008.6 L1729.7,2009.1 L1731.7,2009.5 L1733.7,2009.9 L1735.7,2010.4 L1737.7,2010.8 L1739.7,2011.3 L1741.7,2011.7 L1743.7,2012.2 L1745.7,2012.6 L1747.7,2013.0 L1749.7,2013.5 L1751.7,2013.9 L1753.7,2014.4 L1755.7,2014.8 L1757.7,2015.3 L1759.7,2015.7 L1761.7,2016.1 L1763.7,2016.6 L1765.7,2017.0 L1767.7,2017.5 L1769.7,2017.9 L1771.7,2018.4 L1773.7,2018.8 L1775.7,2019.3 L1777.7,2019.7 L1779.7,2020.2 L1781.7,2020.6 L1783.7,2021.0 L1785.7,2021.5 L1787.7,2021.9 L1789.7,2022.4 L1791.7,2022.8 L1793.7,2023.3 L1795.7,2023.7 L1797.7,2024.2 L1799.7,2024.6 L1801.7,2025.1 L1803.7,2025.5 L1805.7,2026.0 L1807.7,2026.4 L1809.7,2026.9 L1811.7,2027.3 L1813.7,2027.7 L1815.7,2028.2 L1817.7,2028.6 L1819.7,2029.1 L1821.7,2029.5 L1823.7,2030.0 L1825.7,2030.4 L1827.7,2030.9 L1829.7,2031.3 L1831.7,2031.8 L1833.7,2032.2 L1835.7,2032.6 L1837.7,2033.1 L1839.7,2033.5 L1841.7,2034.0 L1843.7,2034.4 L1845.7,2034.9 L1847.7,2035.3 L1849.7,2035.8 L1851.7,2036.2 L1853.7,2036.6 L1855.7,2037.1 L1857.7,2037.5 L1859.7,2038.0 L1861.7,2038.4 L1863.7,2038.9 L1865.7,2039.3 L1867.7,2039.7 L1869.7,2040.2 L1871.7,2040.6 L1873.7,2041.1 L1875.7,2041.5 L1877.7,2041.9 L1879.7,2042.4 L1881.7,2042.8 L1883.7,2043.3 L1885.7,2043.7 L1887.7,2044.1 L1889.7,2044.6 L1891.7,2045.0 L1893.7,2045.5 L1895.7,2045.9 L1897.7,2046.3 L1899.7,2046.8 L1901.7,2047.2 L1903.7,2047.6 L1905.7,2048.1 L1907.7,2048.5 L1909.7,2049.0 L1911.7,2049.4 L1913.7,2049.8 L1915.7,2050.3 L1917.7,2050.7 L1919.7,2051.1 L1921.7,2051.6 L1923.7,2052.0 L1925.7,2052.4 L1927.7,2052.9 L1929.7,2053.3 L1931.7,2053.7 L1933.7,2054.2 L1935.7,2054.6 L1937.7,2055.0 L1939.7,2055.4 L1941.7,2055.9 L1943.7,2056.3 L1945.7,2056.7 L1947.7,2057.2 L1949.7,2057.6 L1951.7,2058.0 L1953.7,2058.5 L1955.7,2058.9 L1957.7,2059.3 L1959.7,2059.7 L1961.7,2060.2 L1963.7,2060.6 L1965.7,2061.0 L1967.7,2061.4 L1969.7,2061.9 L1971.7,2062.3 L1973.7,2062.7 L1975.7,2063.1 L1977.7,2063.6 L1979.7,2064.0 L1981.7,2064.4 L1983.7,2064.8 L1985.7,2065.2 L1987.7,2065.7 L1989.7,2066.1 L1991.7,2066.5 L1993.7,2066.9 L1995.7,2067.4 L1997.7,2067.8 L1999.7,2068.2 L2001.7,2068.6 L2003.7,2069.0 L2005.7,2069.4 L2007.7,2069.9 L2009.7,2070.3 L2011.7,2070.7 L2013.7,2071.1 L2015.7,2071.5 L2017.7,2071.9 L2019.7,2072.4 L2021.7,2072.8 L2023.7,2073.2 L2025.7,2073.6 L2027.7,2074.0 L2029.7,2074.4 L2031.7,2074.8 L2033.7,2075.2 L2035.7,2075.7 L2037.7,2076.1 L2039.7,2076.5 L2041.7,2076.9 L2043.7,2077.3 L2045.7,2077.7 L2047.7,2078.1 L2049.7,2078.5 L2051.7,2078.9 L2053.7,2079.3 L2055.7,2079.7 L2057.7,2080.1 L2059.7,2080.5 L2061.7,2080.9 L2063.7,2081.3 L2065.7,2081.8 L2067.7,2082.2 L2069.7,2082.6 L2071.7,2083.0 L2073.7,2083.4 L2075.7,2083.8 L2077.7,2084.2 L2079.7,2084.6 L2081.7,2085.0 L2083.7,2085.4 L2085.7,2085.8 L2087.7,2086.1 L2089.7,2086.5 L2091.7,2086.9 L2093.7,2087.3 L2095.7,2087.7 L2097.7,2088.1 L2099.7,2088.5 L2101.7,2088.9 L2103.7,2089.3 L2105.7,2089.7 L2107.7,2090.1 L2109.7,2090.5 L2111.7,2090.9 L2113.7,2091.3 L2115.7,2091.6 L2117.7,2092.0 L2119.7,2092.4 L2121.7,2092.8 L2123.7,2093.2 L2125.7,2093.6 L2127.7,2094.0 L2129.7,2094.4 L2131.7,2094.7 L2133.7,2095.1 L2135.7,2095.5 L2137.7,2095.9 L2139.7,2096.3 L2141.7,2096.7 L2143.7,2097.0 L2145.7,2097.4 L2147.7,2097.8 L2149.7,2098.2 L2151.7,2098.5 L2153.7,2098.9 L2155.7,2099.3 L2157.7,2099.7 L2159.7,2100.1 L2161.7,2100.4 L2163.7,2100.8 L2165.7,2101.2 L2167.7,2101.5 L2169.7,2101.9 L2171.7,2102.3 L2173.7,2102.7 L2175.7,2103.0 L2177.7,2103.4 L2179.7,2103.8 L2181.7,2104.1 L2183.7,2104.5 L2185.7,2104.9 L2187.7,2105.2 L2189.7,2105.6 L2191.7,2106.0 L2193.7,2106.3 L2195.7,2106.7 L2197.7,2107.1 L2199.7,2107.4 L2201.7,2107.8 L2203.7,2108.1 L2205.7,2108.5 L2207.7,2108.9 L2209.7,2109.2 L2211.7,2109.6 L2213.7,2109.9 L2215.7,2110.3 L2217.7,2110.6 L2219.7,2111.0 L2221.7,2111.3 L2223.7,2111.7 L2225.7,2112.1 L2227.7,2112.4 L2229.7,2112.8 L2231.7,2113.1 L2233.7,2113.5 L2235.7,2113.8 L2237.7,2114.2 L2239.7,2114.5 L2241.7,2114.8 L2243.7,2115.2 L2245.7,2115.5 L2247.7,2115.9 L2249.7,2116.2 L2251.7,2116.6 L2253.7,2116.9 L2255.7,2117.2 L2257.7,2117.6 L2259.7,2117.9 L2261.7,2118.3 L2263.7,2118.6 L2265.7,2118.9 L2267.7,2119.3 L2269.7,2119.6 L2271.7,2119.9 L2273.7,2120.3 L2275.7,2120.6 L2277.7,2120.9 L2279.7,2121.3 L2281.7,2121.6 L2283.7,2121.9 L2285.7,2122.3 L2287.7,2122.6 L2289.7,2122.9 L2291.7,2123.2 L2293.7,2123.6 L2295.7,2123.9 L2297.7,2124.2 L2299.7,2124.5 L2301.7,2124.9 L2303.7,2125.2 L2305.7,2125.5 L2307.7,2125.8 L2309.7,2126.1 L2311.7,2126.5 L2313.7,2126.8 L2315.7,2127.1 L2317.7,2127.4 L2319.7,2127.7 L2321.7,2128.0 L2323.7,2128.4 L2325.7,2128.7 L2327.7,2129.0 L2329.7,2129.3 L2331.7,2129.6 L2333.7,2129.9 L2335.7,2130.2 L2337.7,2130.5 L2339.7,2130.8 L2341.7,2131.1 L2343.7,2131.4 L2345.7,2131.7 L2347.7,2132.0 L2349.7,2132.3 L2351.7,2132.6 L2353.7,2132.9 L2355.7,2133.2 L2357.7,2133.5 L2359.7,2133.8 L2361.7,2134.1 L2363.7,2134.4 L2365.7,2134.7 L2367.7,2135.0 L2369.7,2135.3 L2371.7,2135.6 L2373.7,2135.9 L2375.7,2136.2 L2377.7,2136.5 L2379.7,2136.7 L2381.7,2137.0 L2383.7,2137.3 L2385.7,2137.6 L2387.7,2137.9 L2389.7,2138.2 L2391.7,2138.4 L2393.7,2138.7 L2395.7,2139.0 L2397.7,2139.3 L2399.7,2139.6 L2401.3,2139.8" fill="none" stroke="#009e73" stroke-width="6.00" stroke-linejoin="round" stroke-linecap="butt"/>
<path d="M655.0,2262.5 L655.8,2264.6 L656.8,2266.7 L657.8,2268.8 L658.8,2270.8 L660.0,2272.8 L661.2,2274.9 L662.5,2276.9 L663.9,2279.0 L665.4,2281.1 L667.0,2283.2 L668.6,2285.4 L670.3,2287.6 L672.1,2289.9 L673.3,2291.5 L674.6,2293.1 L675.9,2294.7 L677.3,2296.3 L678.7,2297.9 L680.1,2299.4 L681.5,2300.8 L683.0,2302.1 L685.3,2304.0 L686.9,2305.3 L688.5,2306.6 L690.1,2307.9 L691.8,2309.2 L693.5,2310.5 L695.3,2311.9 L697.1,2313.2 L698.9,2314.6 L700.8,2316.0 L702.7,2317.4 L704.6,2318.8 L706.6,2320.3 L708.6,2321.7 L710.6,2323.2 L712.7,2324.6 L714.8,2326.1 L716.9,2327.5 L719.1,2329.0 L721.3,2330.4 L723.5,2331.9 L725.8,2333.3 L728.2,2334.8 L730.5,2336.2 L732.9,2337.6 L735.3,2339.0 L737.8,2340.5 L740.3,2341.9 L742.8,2343.3 L745.4,2344.7 L748.0,2346.0 L750.6,2347.4 L753.3,2348.8 L756.0,2350.1 L758.7,2351.5 L761.5,2352.8 L764.3,2354.2 L767.2,2355.5 L770.1,2356.8 L773.0,2358.1 L775.9,2359.4 L778.9,2360.7 L782.0,2362.0 L785.0,2363.3 L788.1,2364.6 L791.3,2365.8 L794.4,2367.1 L797.6,2368.3 L800.9,2369.6 L804.1,2370.8 L807.4,2372.0 L810.8,2373.3 L814.2,2374.5 L817.6,2375.7 L821.0,2376.9 L824.5,2378.1 L828.0,2379.3 L831.6,2380.4 L835.2,2381.6 L838.8,2382.8 L842.5,2383.9 L846.2,2385.1 L849.9,2386.2 L853.7,2387.4 L857.5,2388.5 L861.3,2389.6 L863.3,2390.2 L865.2,2390.7 L867.2,2391.3 L869.1,2391.8 L871.1,2392.4 L873.1,2392.9 L875.1,2393.5 L877.1,2394.0 L879.1,2394.6 L881.1,2395.1 L883.1,2395.7 L885.1,2396.2 L887.2,2396.7 L889.2,2397.3 L891.3,2397.8 L893.3,2398.3 L895.4,2398.9 L897.5,2399.4 L899.6,2399.9 L901.7,2400.5 L903.8,2401.0 L905.9,2401.5 L908.0,2402.0 L910.2,2402.6 L912.3,2403.1 L914.5,2403.6 L916.6,2404.1 L918.8,2404.6 L921.0,2405.1 L923.2,2405.6 L925.4,2406.2 L927.6,2406.7 L929.8,2407.2 L932.0,2407.7 L934.3,2408.2 L936.5,2408.7 L938.8,2409.2 L941.0,2409.7 L943.3,2410.2 L945.6,2410.7 L947.9,2411.2 L950.2,2411.7 L952.5,2412.2 L954.8,2412.6 L957.1,2413.1 L959.4,2413.6 L961.8,2414.1 L964.1,2414.6 L966.5,2415.1 L968.8,2415.6 L971.2,2416.0 L973.6,2416.5 L976.0,2417.0 L978.4,2417.5 L980.8,2418.0 L983.2,2418.4 L985.7,2418.9 L988.1,2419.4 L990.5,2419.8 L993.0,2420.3 L995.5,2420.8 L997.9,2421.2 L1000.4,2421.7 L1002.9,2422.2 L1005.4,2422.6 L1007.9,2423.1 L1010.4,2423.6 L1013.0,2424.0 L1015.5,2424.5 L1018.0,2424.9 L1020.6,2425.4 L1023.2,2425.8 L1025.7,2426.3 L1028.3,2426.7 L1030.9,2427.2 L1033.5,2427.6 L1036.1,2428.1 L1038.7,2428.5 L1041.3,2429.0 L1044.0,2429.4 L1046.6,2429.9 L1049.3,2430.3 L1051.9,2430.7 L1054.6,2431.2 L1057.3,2431.6 L1059.9,2432.1 L1062.6,2432.5 L1065.3,2432.9 L1068.1,2433.4 L1070.8,2433.8 L1073.5,2434.2 L1076.2,2434.6 L1079.0,2435.1 L1081.7,2435.5 L1084.5,2435.9 L1087.3,2436.4 L1090.1,2436.8 L1092.9,2437.2 L1095.7,2437.6 L1098.5,2438.0 L1101.3,2438.5 L1104.1,2438.9 L1107.0,2439.3 L1109.8,2439.7 L1112.6,2440.1 L1115.5,2440.6 L1118.4,2441.0 L1121.3,2441.4 L1124.2,2441.8 L1127.0,2442.2 L1130.0,2442.6 L1132.9,2443.0 L1135.8,2443.4 L1138.7,2443.8 L1141.7,2444.2 L1144.6,2444.6 L1147.6,2445.1 L1150.5,2445.5 L1153.5,2445.9 L1156.5,2446.3 L1159.5,2446.7 L1162.5,2447.1 L1165.5,2447.5 L1168.5,2447.9 L1171.6,2448.3 L1174.6,2448.7 L1177.7,2449.0 L1180.7,2449.4 L1183.8,2449.8 L1186.9,2450.2 L1189.9,2450.6 L1193.0,2451.0 L1196.1,2451.4 L1199.2,2451.8 L1202.4,2452.2 L1205.5,2452.6 L1208.6,2453.0 L1211.8,2453.3 L1214.9,2453.7 L1218.1,2454.1 L1221.3,2454.5 L1224.4,2454.9 L1227.6,2455.3 L1230.8,2455.6 L1234.0,2456.0 L1237.3,2456.4 L1240.5,2456.8 L1243.7,2457.2 L1247.0,2457.5 L1250.2,2457.9 L1253.5,2458.3 L1256.7,2458.7 L1260.0,2459.0 L1263.3,2459.4 L1266.6,2459.8 L1269.9,2460.2 L1273.2,2460.5 L1276.5,2460.9 L1279.9,2461.3 L1283.2,2461.6 L1286.6,2462.0 L1289.9,2462.4 L1293.3,2462.7 L1296.7,2463.1 L1300.0,2463.5 L1303.4,2463.8 L1306.8,2464.2 L1310.2,2464.6 L1313.7,2464.9 L1317.1,2465.3 L1320.5,2465.7 L1324.0,2466.0 L1327.4,2466.4 L1330.9,2466.8 L1334.4,2467.1 L1337.9,2467.5 L1341.3,2467.8 L1344.8,2468.2 L1348.4,2468.6 L1351.9,2468.9 L1355.4,2469.3 L1358.9,2469.6 L1362.5,2470.0 L1366.0,2470.3 L1369.6,2470.7 L1373.2,2471.0 L1376.7,2471.4 L1380.3,2471.7 L1383.9,2472.1 L1387.5,2472.4 L1391.1,2472.8 L1394.8,2473.1 L1398.4,2473.5 L1402.0,2473.8 L1405.7,2474.2 L1409.3,2474.5 L1413.0,2474.9 L1416.7,2475.2 L1420.4,2475.6 L1424.1,2475.9 L1427.8,2476.3 L1431.5,2476.6 L1435.2,2476.9 L1438.9,2477.3 L1442.7,2477.6 L1446.4,2478.0 L1450.2,2478.3 L1453.9,2478.6 L1457.7,2479.0 L1461.5,2479.3 L1465.3,2479.7 L1469.1,2480.0 L1472.9,2480.3 L1476.7,2480.7 L1480.5,2481.0 L1484.4,2481.3 L1488.2,2481.7 L1492.1,2482.0 L1495.9,2482.3 L1499.8,2482.6 L1503.7,2483.0 L1507.6,2483.3 L1511.5,2483.6 L1515.4,2484.0 L1519.3,2484.3 L1523.2,2484.6 L1527.1,2484.9 L1531.1,2485.2 L1535.0,2485.6 L1539.0,2485.9 L1543.0,2486.2 L1546.9,2486.5 L1550.9,2486.9 L1554.9,2487.2 L1558.9,2487.5 L1562.9,2487.8 L1567.0,2488.1 L1571.0,2488.4 L1575.0,2488.8 L1579.1,2489.1 L1583.1,2489.4 L1587.2,2489.7 L1591.3,2490.0 L1595.3,2490.3 L1599.4,2490.6 L1603.5,2490.9 L1607.6,2491.2 L1611.8,2491.5 L1615.9,2491.9 L1620.0,2492.2 L1624.2,2492.5 L1628.3,2492.8 L1632.5,2493.1 L1636.7,2493.4 L1640.8,2493.7 L1645.0,2494.0 L1649.2,2494.3 L1653.4,2494.6 L1657.7,2494.9 L1661.9,2495.2 L1666.1,2495.5 L1670.4,2495.8 L1674.6,2496.1 L1678.9,2496.4 L1683.1,2496.6 L1687.4,2496.9 L1691.7,2497.2 L1696.0,2497.5 L1700.3,2497.8 L1704.6,2498.1 L1708.9,2498.4 L1713.3,2498.7 L1717.6,2499.0 L1722.0,2499.2 L1726.3,2499.5 L1730.7,2499.8 L1735.0,2500.1 L1739.4,2500.4 L1743.8,2500.7 L1748.2,2500.9 L1752.6,2501.2 L1757.1,2501.5 L1761.5,2501.8 L1765.9,2502.1 L1770.4,2502.3 L1774.8,2502.6 L1779.3,2502.9 L1783.8,2503.1 L1788.2,2503.4 L1792.7,2503.7 L1797.2,2504.0 L1801.7,2504.2 L1806.3,2504.5 L1810.8,2504.8 L1815.3,2505.0 L1819.9,2505.3 L1824.4,2505.6 L1829.0,2505.8 L1833.5,2506.1 L1838.1,2506.3 L1842.7,2506.6 L1847.3,2506.9 L1851.9,2507.1 L1856.5,2507.4 L1861.1,2507.6 L1865.8,2507.9 L1870.4,2508.2 L1875.1,2508.4 L1879.7,2508.7 L1884.4,2508.9 L1889.1,2509.2 L1893.7,2509.4 L1898.4,2509.7 L1903.1,2509.9 L1907.9,2510.2 L1912.6,2510.4 L1917.3,2510.6 L1922.0,2510.9 L1926.8,2511.1 L1931.5,2511.4 L1936.3,2511.6 L1941.1,2511.9 L1945.9,2512.1 L1950.6,2512.3 L1955.4,2512.6 L1960.3,2512.8 L1965.1,2513.0 L1969.9,2513.3 L1974.7,2513.5 L1979.6,2513.7 L1984.4,2514.0 L1989.3,2514.2 L1994.2,2514.4 L1999.0,2514.7 L2003.9,2514.9 L2008.8,2515.1 L2013.7,2515.3 L2018.6,2515.6 L2023.6,2515.8 L2028.5,2516.0 L2033.4,2516.2 L2038.4,2516.5 L2043.4,2516.7 L2048.3,2516.9 L2053.3,2517.1 L2058.3,2517.3 L2063.3,2517.5 L2068.3,2517.8 L2073.3,2518.0 L2078.3,2518.2 L2083.3,2518.4 L2088.4,2518.6 L2093.4,2518.8 L2098.5,2519.0 L2103.5,2519.2 L2108.6,2519.4 L2113.7,2519.6 L2118.8,2519.8 L2123.9,2520.0 L2129.0,2520.2 L2134.1,2520.4 L2139.2,2520.6 L2144.4,2520.8 L2149.5,2521.0 L2154.7,2521.2 L2159.8,2521.4 L2165.0,2521.6 L2170.2,2521.8 L2175.4,2522.0 L2180.6,2522.2 L2185.8,2522.4 L2191.0,2522.6 L2196.2,2522.7 L2201.5,2522.9 L2206.7,2523.1 L2212.0,2523.3 L2217.2,2523.5 L2222.5,2523.7 L2227.8,2523.8 L2233.0,2524.0 L2238.3,2524.2 L2243.6,2524.4 L2249.0,2524.5 L2254.3,2524.7 L2259.6,2524.9 L2264.9,2525.1 L2270.3,2525.2 L2275.7,2525.4 L2281.0,2525.6 L2286.4,2525.7 L2291.8,2525.9 L2297.2,2526.1 L2302.6,2526.2 L2308.0,2526.4 L2313.4,2526.5 L2318.8,2526.7 L2324.3,2526.9 L2329.7,2527.0 L2335.2,2527.2 L2340.6,2527.3 L2346.1,2527.5 L2351.6,2527.6 L2357.1,2527.8 L2362.6,2527.9 L2368.1,2528.1 L2373.6,2528.2 L2379.1,2528.4 L2384.6,2528.5 L2390.2,2528.7 L2395.7,2528.8 L2401.3,2529.0" fill="none" stroke="#56b4e9" stroke-width="6.00" stroke-linejoin="round" stroke-linecap="butt"/>
<path d="M409.6,2114.4 L1311.6,2114.4 L1314.4,1880.0 L1316.3,1590.7 L1318.5,1590.6 L1320.7,1590.5 L1322.9,1590.4 L1325.1,1590.3 L1327.3,1590.2 L1329.5,1590.1 L1331.7,1590.1 L1333.9,1590.0 L1336.0,1589.9 L1338.2,1589.8 L1340.4,1589.8 L1342.6,1589.7 L1344.8,1589.6 L1347.0,1589.6 L1349.2,1589.5 L1351.4,1589.5 L1353.6,1589.4 L1355.8,1589.4 L1358.0,1589.4 L1360.2,1589.3 L1362.4,1589.3 L1364.6,1589.3 L1366.8,1589.3 L1369.0,1589.2 L1371.2,1589.2 L1373.4,1589.2 L1375.5,1589.2 L1377.7,1589.2 L1379.9,1589.2 L1382.1,1589.2 L1384.3,1589.2 L1386.5,1589.2 L1388.7,1589.2 L1390.9,1589.2 L1393.1,1589.3 L1395.3,1589.3 L1397.5,1589.3 L1399.6,1589.3 L1401.8,1589.4 L1404.0,1589.4 L1406.2,1589.5 L1408.4,1589.5 L1410.6,1589.5 L1412.8,1589.6 L1415.0,1589.7 L1417.2,1589.7 L1419.3,1589.8 L1421.5,1589.8 L1423.7,1589.9 L1425.9,1590.0 L1428.1,1590.0 L1430.3,1590.1 L1432.5,1590.2 L1434.6,1590.3 L1436.8,1590.4 L1439.0,1590.5 L1441.2,1590.5 L1443.4,1590.6 L1445.6,1590.7 L1447.8,1590.8 L1449.9,1590.9 L1452.1,1591.0 L1454.3,1591.2 L1456.5,1591.3 L1458.7,1591.4 L1460.9,1591.5 L1463.0,1591.6 L1465.2,1591.7 L1467.4,1591.9 L1469.6,1592.0 L1471.8,1592.1 L1473.9,1592.3 L1476.1,1592.4 L1478.3,1592.5 L1480.5,1592.7 L1482.7,1592.8 L1484.9,1593.0 L1487.0,1593.1 L1489.2,1593.3 L1491.4,1593.5 L1493.6,1593.6 L1495.8,1593.8 L1497.9,1593.9 L1500.1,1594.1 L1502.3,1594.3 L1504.5,1594.4 L1506.6,1594.6 L1508.8,1594.8 L1511.0,1595.0 L1513.2,1595.2 L1515.4,1595.3 L1517.5,1595.5 L1519.7,1595.7 L1521.9,1595.9 L1524.1,1596.1 L1526.2,1596.3 L1528.4,1596.5 L1530.6,1596.7 L1532.8,1596.9 L1535.0,1597.1 L1537.1,1597.3 L1539.3,1597.5 L1541.5,1597.8 L1543.7,1598.0 L1545.8,1598.2 L1548.0,1598.4 L1550.2,1598.6 L1552.4,1598.9 L1554.5,1599.1 L1556.7,1599.3 L1558.9,1599.5 L1561.1,1599.8 L1563.2,1600.0 L1565.4,1600.3 L1567.6,1600.5 L1569.7,1600.7 L1571.9,1601.0 L1574.1,1601.2 L1576.3,1601.5 L1578.4,1601.7 L1580.6,1602.0 L1582.8,1602.2 L1585.0,1602.5 L1587.1,1602.7 L1589.3,1603.0 L1591.5,1603.3 L1593.6,1603.5 L1595.8,1603.8 L1598.0,1604.0 L1600.2,1604.3 L1602.3,1604.6 L1604.5,1604.9 L1606.7,1605.1 L1608.8,1605.4 L1611.0,1605.7 L1613.2,1606.0 L1615.4,1606.2 L1617.5,1606.5 L1619.7,1606.8 L1621.9,1607.1 L1624.0,1607.4 L1626.2,1607.7 L1628.4,1608.0 L1630.5,1608.3 L1632.7,1608.5 L1634.9,1608.8 L1637.0,1609.1 L1639.2,1609.4 L1641.4,1609.7 L1643.6,1610.0 L1645.7,1610.3 L1647.9,1610.6 L1650.1,1611.0 L1652.2,1611.3 L1654.4,1611.6 L1656.6,1611.9 L1658.7,1612.2 L1660.9,1612.5 L1663.1,1612.8 L1665.2,1613.1 L1667.4,1613.4 L1669.6,1613.8 L1671.7,1614.1 L1673.9,1614.4 L1676.1,1614.7 L1678.2,1615.0 L1680.4,1615.4 L1682.6,1615.7 L1684.7,1616.0 L1686.9,1616.3 L1689.1,1616.7 L1691.2,1617.0 L1693.4,1617.3 L1695.6,1617.7 L1697.7,1618.0 L1699.9,1618.3 L1702.1,1618.7 L1704.2,1619.0 L1706.4,1619.3 L1708.6,1619.7 L1710.7,1620.0 L1712.9,1620.3 L1715.0,1620.7 L1717.2,1621.0 L1719.4,1621.4 L1721.5,1621.7 L1723.7,1622.1 L1725.9,1622.4 L1728.0,1622.7 L1730.2,1623.1 L1732.4,1623.4 L1734.5,1623.8 L1736.7,1624.1 L1738.9,1624.5 L1741.0,1624.8 L1743.2,1625.2 L1745.3,1625.5 L1747.5,1625.9 L1749.7,1626.2 L1751.8,1626.6 L1754.0,1626.9 L1756.2,1627.3 L1758.3,1627.7 L1760.5,1628.0 L1762.7,1628.4 L1764.8,1628.7 L1767.0,1629.1 L1769.1,1629.4 L1771.3,1629.8 L1773.5,1630.2 L1775.6,1630.5 L1777.8,1630.9 L1780.0,1631.2 L1782.1,1631.6 L1784.3,1632.0 L1786.4,1632.3 L1788.6,1632.7 L1790.8,1633.0 L1792.9,1633.4 L1795.1,1633.8 L1797.3,1634.1 L1799.4,1634.5 L1801.6,1634.8 L1803.7,1635.2 L1805.9,1635.6 L1808.1,1635.9 L1810.2,1636.3 L1812.4,1636.7 L1814.6,1637.0 L1816.7,1637.4 L1818.9,1637.8 L1821.0,1638.1 L1823.2,1638.5 L1825.4,1638.9 L1827.5,1639.2 L1829.7,1639.6 L1831.8,1640.0 L1834.0,1640.3 L1836.2,1640.7 L1838.3,1641.1 L1840.5,1641.5 L1842.7,1641.8 L1844.8,1642.2 L1847.0,1642.6 L1849.1,1642.9 L1851.3,1643.3 L1853.5,1643.7 L1855.6,1644.1 L1857.8,1644.4 L1859.9,1644.8 L1862.1,1645.2 L1864.3,1645.5 L1866.4,1645.9 L1868.6,1646.3 L1870.7,1646.7 L1872.9,1647.0 L1875.1,1647.4 L1877.2,1647.8 L1879.4,1648.2 L1881.6,1648.5 L1883.7,1648.9 L1885.9,1649.3 L1888.0,1649.6 L1890.2,1650.0 L1892.4,1650.4 L1894.5,1650.8 L1896.7,1651.1 L1898.8,1651.5 L1901.0,1651.9 L1903.2,1652.3 L1905.3,1652.6 L1907.5,1653.0 L1909.6,1653.4 L1911.8,1653.8 L1914.0,1654.1 L1916.1,1654.5 L1918.3,1654.9 L1920.4,1655.3 L1922.6,1655.6 L1924.8,1656.0 L1926.9,1656.4 L1929.1,1656.8 L1931.2,1657.1 L1933.4,1657.5 L1935.6,1657.9 L1937.7,1658.3 L1939.9,1658.6 L1942.0,1659.0 L1944.2,1659.4 L1946.4,1659.8 L1948.5,1660.1 L1950.7,1660.5 L1952.8,1660.9 L1955.0,1661.3 L1957.2,1661.6 L1959.3,1662.0 L1961.5,1662.4 L1963.7,1662.8 L1965.8,1663.1 L1968.0,1663.5 L1970.1,1663.9 L1972.3,1664.3 L1974.5,1664.6 L1976.6,1665.0 L1978.8,1665.4 L1980.9,1665.7 L1983.1,1666.1 L1985.3,1666.5 L1987.4,1666.9 L1989.6,1667.2 L1991.7,1667.6 L1993.9,1668.0 L1996.1,1668.4 L1998.2,1668.7 L2000.4,1669.1 L2002.5,1669.5 L2004.7,1669.8 L2006.9,1670.2 L2009.0,1670.6 L2011.2,1671.0 L2013.4,1671.3 L2015.5,1671.7 L2017.7,1672.1 L2019.8,1672.4 L2022.0,1672.8 L2024.2,1673.2 L2026.3,1673.5 L2028.5,1673.9 L2030.6,1674.3 L2032.8,1674.6 L2035.0,1675.0 L2037.1,1675.4 L2039.3,1675.7 L2041.4,1676.1 L2043.6,1676.5 L2045.8,1676.8 L2047.9,1677.2 L2050.1,1677.6 L2052.3,1677.9 L2054.4,1678.3 L2056.6,1678.6 L2058.7,1679.0 L2060.9,1679.4 L2063.1,1679.7 L2065.2,1680.1 L2067.4,1680.5 L2069.6,1680.8 L2071.7,1681.2 L2073.9,1681.5 L2076.0,1681.9 L2078.2,1682.3 L2080.4,1682.6 L2082.5,1683.0 L2084.7,1683.3 L2086.9,1683.7 L2089.0,1684.0 L2091.2,1684.4 L2093.3,1684.8 L2095.5,1685.1 L2097.7,1685.5 L2099.8,1685.8 L2102.0,1686.2 L2104.2,1686.5 L2106.3,1686.9 L2108.5,1687.2 L2110.6,1687.6 L2112.8,1687.9 L2115.0,1688.3 L2117.1,1688.6 L2119.3,1689.0 L2121.5,1689.3 L2123.6,1689.7 L2125.8,1690.0 L2128.0,1690.4 L2130.1,1690.7 L2132.3,1691.1 L2134.4,1691.4 L2136.6,1691.7 L2138.8,1692.1 L2140.9,1692.4 L2143.1,1692.8 L2145.3,1693.1 L2147.4,1693.4 L2149.6,1693.8 L2151.8,1694.1 L2153.9,1694.5 L2156.1,1694.8 L2158.3,1695.1 L2160.4,1695.5 L2162.6,1695.8 L2164.7,1696.1 L2166.9,1696.5 L2169.1,1696.8 L2171.2,1697.1 L2173.4,1697.5 L2175.6,1697.8 L2177.7,1698.1 L2179.9,1698.5 L2182.1,1698.8 L2184.2,1699.1 L2186.4,1699.5 L2188.6,1699.8 L2190.7,1700.1 L2192.9,1700.4 L2195.1,1700.8 L2197.2,1701.1 L2199.4,1701.4 L2201.6,1701.7 L2203.7,1702.0 L2205.9,1702.4 L2208.1,1702.7 L2210.2,1703.0 L2212.4,1703.3 L2214.6,1703.6 L2216.7,1703.9 L2218.9,1704.3 L2221.1,1704.6 L2223.2,1704.9 L2225.4,1705.2 L2227.6,1705.5 L2229.8,1705.8 L2231.9,1706.1 L2234.1,1706.4 L2236.3,1706.7 L2238.4,1707.0 L2240.6,1707.3 L2242.8,1707.7 L2244.9,1708.0 L2247.1,1708.3 L2249.3,1708.6 L2251.4,1708.9 L2253.6,1709.2 L2255.8,1709.5 L2257.9,1709.8 L2260.1,1710.0 L2262.3,1710.3 L2264.5,1710.6 L2266.6,1710.9 L2268.8,1711.2 L2271.0,1711.5 L2273.1,1711.8 L2275.3,1712.1 L2277.5,1712.4 L2279.7,1712.7 L2281.8,1712.9 L2284.0,1713.2 L2286.2,1713.5 L2288.3,1713.8 L2290.5,1714.1 L2292.7,1714.4 L2294.9,1714.6 L2297.0,1714.9 L2299.2,1715.2 L2301.4,1715.5 L2303.5,1715.7 L2305.7,1716.0 L2307.9,1716.3 L2310.1,1716.6 L2312.2,1716.8 L2314.4,1717.1 L2316.6,1717.4 L2318.8,1717.6 L2320.9,1717.9 L2323.1,1718.2 L2325.3,1718.4 L2327.5,1718.7 L2329.6,1718.9 L2331.8,1719.2 L2334.0,1719.4 L2336.2,1719.7 L2338.3,1720.0 L2340.5,1720.2 L2342.7,1720.5 L2344.9,1720.7 L2347.0,1721.0 L2349.2,1721.2 L2351.4,1721.5 L2353.6,1721.7 L2355.7,1722.0 L2357.9,1722.2 L2360.1,1722.4 L2362.3,1722.7 L2364.4,1722.9 L2366.6,1723.2 L2368.8,1723.4 L2371.0,1723.6 L2373.1,1723.9 L2375.3,1724.1 L2377.5,1724.3 L2379.7,1724.5 L2381.9,1724.8 L2384.0,1725.0 L2386.2,1725.2 L2388.4,1725.4 L2390.6,1725.7 L2392.8,1725.9 L2394.9,1726.1 L2397.1,1726.3 L2399.3,1726.5 L2401.1,1726.7" fill="none" stroke="#e69f00" stroke-width="6.00" stroke-linejoin="miter" stroke-linecap="butt" stroke-miterlimit="10"/>
<path d="M409.6,3800.0 L1306.0,3800.0 L1310.6,3667.0 L1313.6,3565.0 L1316.1,3489.8 L1316.9,3487.6 L1317.8,3485.3 L1318.6,3483.0 L1319.4,3480.7 L1320.2,3478.4 L1321.0,3476.2 L1321.8,3473.9 L1322.6,3471.6 L1323.4,3469.3 L1324.2,3467.0 L1325.0,3464.7 L1325.8,3462.4 L1326.6,3460.0 L1327.4,3457.7 L1328.2,3455.4 L1329.0,3453.1 L1329.7,3450.8 L1330.5,3448.4 L1331.3,3446.1 L1332.1,3443.8 L1332.8,3441.4 L1333.6,3439.1 L1334.4,3436.8 L1335.1,3434.4 L1335.9,3432.1 L1336.7,3429.8 L1337.4,3427.4 L1338.2,3425.1 L1339.0,3422.7 L1339.7,3420.4 L1340.5,3418.0 L1341.3,3415.7 L1342.0,3413.4 L1342.8,3411.0 L1343.6,3408.7 L1344.3,3406.3 L1345.1,3404.0 L1345.9,3401.6 L1346.7,3399.3 L1347.4,3396.9 L1348.2,3394.6 L1349.0,3392.2 L1349.8,3389.9 L1350.6,3387.6 L1351.3,3385.2 L1352.1,3382.9 L1352.9,3380.5 L1353.7,3378.2 L1354.5,3375.9 L1355.3,3373.5 L1356.1,3371.2 L1356.9,3368.9 L1357.7,3366.5 L1358.5,3364.2 L1359.3,3361.9 L1360.2,3359.5 L1361.0,3357.2 L1361.8,3354.9 L1362.7,3352.6 L1363.5,3350.3 L1364.3,3348.0 L1365.2,3345.7 L1366.0,3343.4 L1366.9,3341.1 L1367.8,3338.8 L1368.6,3336.5 L1369.5,3334.2 L1370.4,3331.9 L1371.3,3329.6 L1372.2,3327.3 L1373.1,3325.1 L1374.0,3322.8 L1374.9,3320.5 L1375.9,3318.3 L1376.8,3316.0 L1377.7,3313.7 L1378.7,3311.5 L1379.6,3309.3 L1380.6,3307.0 L1381.5,3304.8 L1382.5,3302.6 L1383.5,3300.3 L1384.5,3298.1 L1385.5,3295.9 L1386.5,3293.7 L1387.5,3291.5 L1388.5,3289.3 L1389.5,3287.1 L1390.5,3284.9 L1391.6,3282.7 L1392.6,3280.5 L1393.7,3278.3 L1394.7,3276.1 L1395.8,3273.9 L1396.8,3271.7 L1397.9,3269.6 L1399.0,3267.4 L1400.1,3265.2 L1401.2,3263.1 L1402.3,3260.9 L1403.4,3258.7 L1404.5,3256.6 L1405.6,3254.4 L1406.7,3252.3 L1407.8,3250.1 L1408.9,3248.0 L1410.1,3245.8 L1411.2,3243.7 L1412.4,3241.6 L1413.5,3239.4 L1414.7,3237.3 L1415.8,3235.2 L1417.0,3233.0 L1418.2,3230.9 L1419.4,3228.8 L1420.5,3226.7 L1421.7,3224.6 L1422.9,3222.4 L1424.1,3220.3 L1425.3,3218.2 L1426.5,3216.1 L1427.8,3214.0 L1429.0,3211.9 L1430.2,3209.8 L1431.4,3207.7 L1432.7,3205.6 L1433.9,3203.5 L1435.2,3201.4 L1436.4,3199.3 L1437.7,3197.2 L1438.9,3195.1 L1440.2,3193.0 L1441.5,3190.9 L1442.7,3188.8 L1444.0,3186.7 L1445.3,3184.6 L1446.6,3182.5 L1447.9,3180.4 L1449.2,3178.4 L1450.5,3176.3 L1451.8,3174.2 L1453.1,3172.1 L1454.4,3170.0 L1455.7,3167.9 L1457.0,3165.9 L1458.3,3163.8 L1459.7,3161.7 L1461.0,3159.7 L1462.4,3157.6 L1463.7,3155.5 L1465.1,3153.4 L1466.4,3151.4 L1467.8,3149.3 L1469.1,3147.3 L1470.5,3145.2 L1471.9,3143.1 L1473.2,3141.1 L1474.6,3139.0 L1476.0,3137.0 L1477.4,3134.9 L1478.8,3132.9 L1480.2,3130.8 L1481.6,3128.8 L1483.0,3126.7 L1484.4,3124.7 L1485.8,3122.7 L1487.3,3120.6 L1488.7,3118.6 L1490.1,3116.6 L1491.6,3114.5 L1493.0,3112.5 L1494.4,3110.5 L1495.9,3108.5 L1497.3,3106.4 L1498.8,3104.4 L1500.3,3102.4 L1501.7,3100.4 L1503.2,3098.4 L1504.7,3096.4 L1506.1,3094.4 L1507.6,3092.3 L1509.1,3090.3 L1510.6,3088.3 L1512.1,3086.3 L1513.6,3084.3 L1515.1,3082.3 L1516.6,3080.4 L1518.1,3078.4 L1519.7,3076.4 L1521.2,3074.4 L1522.7,3072.4 L1524.3,3070.4 L1525.8,3068.4 L1527.3,3066.5 L1528.9,3064.5 L1530.4,3062.5 L1532.0,3060.5 L1533.5,3058.6 L1535.1,3056.6 L1536.7,3054.6 L1538.3,3052.7 L1539.8,3050.7 L1541.4,3048.8 L1543.0,3046.8 L1544.6,3044.9 L1546.2,3042.9 L1547.8,3041.0 L1549.4,3039.0 L1551.0,3037.1 L1552.6,3035.2 L1554.2,3033.2 L1555.8,3031.3 L1557.5,3029.4 L1559.1,3027.4 L1560.7,3025.5 L1562.4,3023.6 L1564.0,3021.7 L1565.7,3019.8 L1567.3,3017.9 L1569.0,3015.9 L1570.6,3014.0 L1572.3,3012.1 L1574.0,3010.2 L1575.6,3008.3 L1577.3,3006.4 L1579.0,3004.5 L1580.7,3002.6 L1582.4,3000.7 L1584.1,2998.8 L1585.8,2996.9 L1587.5,2995.0 L1589.2,2993.1 L1590.9,2991.2 L1592.6,2989.3 L1594.3,2987.4 L1596.1,2985.6 L1597.8,2983.7 L1599.5,2981.8 L1601.3,2980.0 L1603.0,2978.1 L1604.8,2976.2 L1606.5,2974.4 L1608.3,2972.5 L1610.0,2970.7 L1611.8,2968.9 L1613.6,2967.0 L1615.3,2965.2 L1617.1,2963.4 L1618.9,2961.6 L1620.7,2959.8 L1622.5,2958.0 L1624.3,2956.2 L1626.1,2954.4 L1627.9,2952.7 L1629.7,2950.9 L1631.5,2949.2 L1633.3,2947.4 L1635.1,2945.7 L1637.0,2944.0 L1638.8,2942.2 L1640.6,2940.5 L1642.5,2938.8 L1644.3,2937.1 L1646.1,2935.5 L1648.0,2933.8 L1649.9,2932.1 L1651.7,2930.5 L1653.6,2928.9 L1655.4,2927.2 L1657.3,2925.6 L1659.2,2924.0 L1661.1,2922.4 L1663.0,2920.8 L1664.8,2919.2 L1666.7,2917.6 L1668.6,2916.0 L1670.5,2914.4 L1672.4,2912.8 L1674.3,2911.2 L1676.3,2909.7 L1678.2,2908.1 L1680.1,2906.6 L1682.0,2905.1 L1683.9,2903.5 L1685.9,2902.0 L1687.8,2900.5 L1689.7,2899.0 L1691.7,2897.5 L1693.6,2896.0 L1695.6,2894.6 L1697.5,2893.1 L1699.5,2891.7 L1701.5,2890.2 L1703.4,2888.8 L1705.4,2887.3 L1707.4,2885.9 L1709.4,2884.5 L1711.3,2883.1 L1713.3,2881.7 L1715.3,2880.3 L1717.3,2878.9 L1719.3,2877.5 L1721.3,2876.1 L1723.3,2874.8 L1725.3,2873.4 L1727.3,2872.0 L1729.3,2870.7 L1731.3,2869.3 L1733.4,2868.0 L1735.4,2866.6 L1737.4,2865.3 L1739.4,2864.0 L1741.5,2862.6 L1743.5,2861.3 L1745.6,2860.0 L1747.6,2858.7 L1749.6,2857.4 L1751.7,2856.1 L1753.7,2854.8 L1755.8,2853.5 L1757.9,2852.2 L1759.9,2850.9 L1762.0,2849.7 L1764.1,2848.4 L1766.1,2847.1 L1768.2,2845.9 L1770.3,2844.6 L1772.4,2843.4 L1774.5,2842.1 L1776.6,2840.9 L1778.6,2839.6 L1780.7,2838.4 L1782.8,2837.2 L1784.9,2835.9 L1787.1,2834.7 L1789.2,2833.5 L1791.3,2832.3 L1793.4,2831.1 L1795.5,2829.9 L1797.6,2828.7 L1799.7,2827.5 L1801.9,2826.3 L1804.0,2825.1 L1806.1,2823.9 L1808.3,2822.7 L1810.4,2821.5 L1812.5,2820.3 L1814.7,2819.2 L1816.8,2818.0 L1819.0,2816.8 L1821.1,2815.6 L1823.3,2814.4 L1825.4,2813.3 L1827.6,2812.1 L1829.8,2810.9 L1831.9,2809.8 L1834.1,2808.6 L1836.3,2807.4 L1838.4,2806.3 L1840.6,2805.1 L1842.8,2804.0 L1845.0,2802.8 L1847.2,2801.7 L1849.3,2800.6 L1851.5,2799.4 L1853.7,2798.3 L1855.9,2797.2 L1858.1,2796.1 L1860.3,2795.0 L1862.5,2793.9 L1864.7,2792.8 L1866.9,2791.7 L1869.1,2790.6 L1871.4,2789.5 L1873.6,2788.4 L1875.8,2787.3 L1878.0,2786.3 L1880.2,2785.2 L1882.4,2784.2 L1884.7,2783.1 L1886.9,2782.1 L1889.1,2781.0 L1891.4,2780.0 L1893.6,2779.0 L1895.8,2777.9 L1898.1,2776.9 L1900.3,2775.9 L1902.6,2774.9 L1904.8,2773.9 L1907.0,2772.9 L1909.3,2771.9 L1911.5,2770.9 L1913.8,2769.9 L1916.1,2768.9 L1918.3,2767.9 L1920.6,2766.9 L1922.8,2766.0 L1925.1,2765.0 L1927.4,2764.0 L1929.6,2763.1 L1931.9,2762.1 L1934.2,2761.1 L1936.4,2760.2 L1938.7,2759.2 L1941.0,2758.3 L1943.3,2757.4 L1945.6,2756.4 L1947.8,2755.5 L1950.1,2754.6 L1952.4,2753.6 L1954.7,2752.7 L1957.0,2751.8 L1959.3,2750.9 L1961.6,2750.0 L1963.9,2749.1 L1966.2,2748.2 L1968.5,2747.3 L1970.8,2746.4 L1973.1,2745.5 L1975.4,2744.6 L1977.7,2743.7 L1980.0,2742.8 L1982.3,2741.9 L1984.6,2741.0 L1986.9,2740.2 L1989.2,2739.3 L1991.6,2738.4 L1993.9,2737.6 L1996.2,2736.7 L1998.5,2735.9 L2000.8,2735.0 L2003.2,2734.2 L2005.5,2733.3 L2007.8,2732.5 L2010.1,2731.7 L2012.5,2730.8 L2014.8,2730.0 L2017.1,2729.2 L2019.4,2728.3 L2021.8,2727.5 L2024.1,2726.7 L2026.5,2725.9 L2028.8,2725.1 L2031.1,2724.3 L2033.5,2723.5 L2035.8,2722.7 L2038.1,2721.9 L2040.5,2721.1 L2042.8,2720.3 L2045.2,2719.5 L2047.5,2718.7 L2049.9,2717.9 L2052.2,2717.1 L2054.6,2716.3 L2056.9,2715.5 L2059.3,2714.8 L2061.6,2714.0 L2064.0,2713.2 L2066.3,2712.4 L2068.7,2711.7 L2071.1,2710.9 L2073.4,2710.1 L2075.8,2709.3 L2078.1,2708.6 L2080.5,2707.8 L2082.9,2707.0 L2085.2,2706.2 L2087.6,2705.4 L2089.9,2704.6 L2092.3,2703.8 L2094.7,2703.0 L2097.0,2702.3 L2099.4,2701.5 L2101.8,2700.7 L2104.1,2699.9 L2106.5,2699.1 L2108.9,2698.4 L2111.3,2697.6 L2113.6,2696.9 L2116.0,2696.1 L2118.4,2695.4 L2120.7,2694.7 L2123.1,2694.0 L2125.5,2693.3 L2127.9,2692.6 L2130.2,2691.9 L2132.6,2691.2 L2135.0,2690.5 L2137.4,2689.8 L2139.7,2689.1 L2142.1,2688.4 L2144.5,2687.7 L2146.9,2687.1 L2149.3,2686.4 L2151.6,2685.7 L2154.0,2685.1 L2156.4,2684.4 L2158.8,2683.7 L2161.2,2683.1 L2163.5,2682.4 L2165.9,2681.8 L2168.3,2681.2 L2170.7,2680.5 L2173.1,2679.9 L2175.5,2679.3 L2177.8,2678.7 L2180.2,2678.0 L2182.6,2677.4 L2185.0,2676.8 L2187.4,2676.3 L2189.8,2675.7 L2192.1,2675.1 L2194.5,2674.5 L2196.9,2673.9 L2199.3,2673.4 L2201.7,2672.8 L2204.1,2672.3 L2206.4,2671.7 L2208.8,2671.2 L2211.2,2670.6 L2213.6,2670.1 L2216.0,2669.6 L2218.4,2669.0 L2220.7,2668.5 L2223.1,2668.0 L2225.5,2667.4 L2227.9,2666.9 L2230.3,2666.4 L2232.7,2665.9 L2235.0,2665.4 L2237.4,2664.9 L2239.8,2664.3 L2242.2,2663.8 L2244.6,2663.3 L2247.0,2662.8 L2249.3,2662.3 L2251.7,2661.8 L2254.1,2661.3 L2256.5,2660.8 L2258.9,2660.2 L2261.2,2659.7 L2263.6,2659.2 L2266.0,2658.7 L2268.4,2658.2 L2270.8,2657.7 L2273.1,2657.2 L2275.5,2656.6 L2277.9,2656.1 L2280.3,2655.6 L2282.6,2655.1 L2285.0,2654.6 L2287.4,2654.1 L2289.8,2653.6 L2292.1,2653.1 L2294.5,2652.6 L2296.9,2652.1 L2299.2,2651.6 L2301.6,2651.1 L2304.0,2650.6 L2306.4,2650.1 L2308.7,2649.6 L2311.1,2649.1 L2313.5,2648.6 L2315.8,2648.1 L2318.2,2647.6 L2320.6,2647.1 L2322.9,2646.7 L2325.3,2646.2 L2327.6,2645.7 L2330.0,2645.2 L2332.4,2644.7 L2334.7,2644.2 L2337.1,2643.7 L2339.4,2643.3 L2341.8,2642.8 L2344.2,2642.3 L2346.5,2641.8 L2348.9,2641.3 L2351.2,2640.8 L2353.6,2640.4 L2355.9,2639.9 L2358.3,2639.4 L2360.6,2638.9 L2363.0,2638.4 L2365.3,2637.9 L2367.7,2637.4 L2370.0,2636.9 L2372.3,2636.4 L2374.7,2635.9 L2377.0,2635.4 L2379.4,2634.9 L2381.7,2634.4 L2384.0,2633.9 L2386.4,2633.4 L2388.7,2632.9 L2391.0,2632.4 L2393.4,2631.9 L2395.7,2631.4 L2398.0,2630.9 L2399.9,2630.5" fill="none" stroke="#9400d3" stroke-width="6.00" stroke-linejoin="round" stroke-linecap="butt"/>
<path d="M409.6,3800.0 L1306.0,3800.0 L1310.6,3667.0 L1313.6,3565.0 L1316.1,3489.8 L1316.9,3487.6 L1317.8,3485.3 L1318.6,3483.0 L1319.4,3480.7 L1320.2,3478.5 L1321.0,3476.2 L1321.8,3473.9 L1322.6,3471.6 L1323.4,3469.3 L1324.2,3467.0 L1325.0,3464.7 L1325.8,3462.4 L1326.6,3460.1 L1327.4,3457.8 L1328.2,3455.4 L1329.0,3453.1 L1329.7,3450.8 L1330.5,3448.5 L1331.3,3446.2 L1332.1,3443.8 L1332.8,3441.5 L1333.6,3439.2 L1334.4,3436.8 L1335.1,3434.5 L1335.9,3432.2 L1336.7,3429.8 L1337.4,3427.5 L1338.2,3425.2 L1339.0,3422.8 L1339.7,3420.5 L1340.5,3418.1 L1341.3,3415.8 L1342.0,3413.5 L1342.8,3411.1 L1343.6,3408.8 L1344.3,3406.4 L1345.1,3404.1 L1345.9,3401.7 L1346.7,3399.4 L1347.4,3397.1 L1348.2,3394.7 L1349.0,3392.4 L1349.8,3390.0 L1350.6,3387.7 L1351.3,3385.4 L1352.1,3383.0 L1352.9,3380.7 L1353.7,3378.3 L1354.5,3376.0 L1355.3,3373.7 L1356.1,3371.3 L1356.9,3369.0 L1357.7,3366.7 L1358.5,3364.4 L1359.3,3362.0 L1360.2,3359.7 L1361.0,3357.4 L1361.8,3355.1 L1362.7,3352.8 L1363.5,3350.5 L1364.3,3348.2 L1365.2,3345.9 L1366.0,3343.6 L1366.9,3341.3 L1367.8,3339.0 L1368.6,3336.7 L1369.5,3334.4 L1370.4,3332.1 L1371.3,3329.8 L1372.2,3327.6 L1373.1,3325.3 L1374.0,3323.0 L1374.9,3320.8 L1375.9,3318.5 L1376.8,3316.3 L1377.7,3314.0 L1378.7,3311.8 L1379.6,3309.5 L1380.6,3307.3 L1381.5,3305.1 L1382.5,3302.8 L1383.5,3300.6 L1384.5,3298.4 L1385.5,3296.2 L1386.5,3294.0 L1387.5,3291.8 L1388.5,3289.6 L1389.5,3287.4 L1390.5,3285.2 L1391.6,3283.0 L1392.6,3280.8 L1393.7,3278.6 L1394.7,3276.4 L1395.8,3274.3 L1396.8,3272.1 L1397.9,3269.9 L1399.0,3267.8 L1400.1,3265.6 L1401.2,3263.4 L1402.3,3261.3 L1403.4,3259.1 L1404.5,3257.0 L1405.6,3254.8 L1406.7,3252.7 L1407.8,3250.5 L1408.9,3248.4 L1410.1,3246.3 L1411.2,3244.1 L1412.4,3242.0 L1413.5,3239.9 L1414.7,3237.8 L1415.8,3235.6 L1417.0,3233.5 L1418.2,3231.4 L1419.4,3229.3 L1420.5,3227.2 L1421.7,3225.0 L1422.9,3222.9 L1424.1,3220.8 L1425.3,3218.7 L1426.5,3216.6 L1427.8,3214.5 L1429.0,3212.4 L1430.2,3210.3 L1431.4,3208.2 L1432.7,3206.1 L1433.9,3204.0 L1435.2,3202.0 L1436.4,3199.9 L1437.7,3197.8 L1438.9,3195.7 L1440.2,3193.6 L1441.5,3191.5 L1442.7,3189.4 L1444.0,3187.4 L1445.3,3185.3 L1446.6,3183.2 L1447.9,3181.1 L1449.2,3179.1 L1450.5,3177.0 L1451.8,3174.9 L1453.1,3172.8 L1454.4,3170.8 L1455.7,3168.7 L1457.0,3166.6 L1458.3,3164.6 L1459.7,3162.5 L1461.0,3160.5 L1462.4,3158.4 L1463.7,3156.4 L1465.1,3154.3 L1466.4,3152.3 L1467.8,3150.2 L1469.1,3148.2 L1470.5,3146.1 L1471.9,3144.1 L1473.2,3142.0 L1474.6,3140.0 L1476.0,3138.0 L1477.4,3135.9 L1478.8,3133.9 L1480.2,3131.9 L1481.6,3129.8 L1483.0,3127.8 L1484.4,3125.8 L1485.8,3123.8 L1487.3,3121.8 L1488.7,3119.8 L1490.1,3117.7 L1491.6,3115.7 L1493.0,3113.7 L1494.4,3111.7 L1495.9,3109.7 L1497.3,3107.7 L1498.8,3105.7 L1500.3,3103.8 L1501.7,3101.8 L1503.2,3099.8 L1504.7,3097.8 L1506.1,3095.8 L1507.6,3093.8 L1509.1,3091.9 L1510.6,3089.9 L1512.1,3087.9 L1513.6,3086.0 L1515.1,3084.0 L1516.6,3082.0 L1518.1,3080.1 L1519.7,3078.1 L1521.2,3076.2 L1522.7,3074.2 L1524.3,3072.3 L1525.8,3070.3 L1527.3,3068.4 L1528.9,3066.4 L1530.4,3064.5 L1532.0,3062.6 L1533.5,3060.7 L1535.1,3058.7 L1536.7,3056.8 L1538.3,3054.9 L1539.8,3053.0 L1541.4,3051.1 L1543.0,3049.2 L1544.6,3047.3 L1546.2,3045.4 L1547.8,3043.5 L1549.4,3041.6 L1551.0,3039.7 L1552.6,3037.8 L1554.2,3035.9 L1555.8,3034.0 L1557.5,3032.2 L1559.1,3030.3 L1560.7,3028.4 L1562.4,3026.6 L1564.0,3024.7 L1565.7,3022.9 L1567.3,3021.0 L1569.0,3019.2 L1570.6,3017.3 L1572.3,3015.5 L1574.0,3013.7 L1575.6,3011.8 L1577.3,3010.0 L1579.0,3008.2 L1580.7,3006.4 L1582.4,3004.6 L1584.1,3002.8 L1585.8,3001.0 L1587.5,2999.2 L1589.2,2997.4 L1590.9,2995.6 L1592.6,2993.9 L1594.3,2992.1 L1596.1,2990.3 L1597.8,2988.6 L1599.5,2986.8 L1601.3,2985.1 L1603.0,2983.3 L1604.8,2981.6 L1606.5,2979.9 L1608.3,2978.1 L1610.0,2976.4 L1611.8,2974.7 L1613.6,2973.0 L1615.3,2971.3 L1617.1,2969.6 L1618.9,2967.9 L1620.7,2966.2 L1622.5,2964.5 L1624.3,2962.9 L1626.1,2961.2 L1627.9,2959.5 L1629.7,2957.9 L1631.5,2956.2 L1633.3,2954.6 L1635.1,2953.0 L1637.0,2951.3 L1638.8,2949.7 L1640.6,2948.1 L1642.5,2946.5 L1644.3,2944.9 L1646.1,2943.3 L1648.0,2941.7 L1649.9,2940.1 L1651.7,2938.6 L1653.6,2937.0 L1655.4,2935.5 L1657.3,2933.9 L1659.2,2932.4 L1661.1,2930.8 L1663.0,2929.3 L1664.8,2927.8 L1666.7,2926.3 L1668.6,2924.8 L1670.5,2923.3 L1672.4,2921.8 L1674.3,2920.4 L1676.3,2918.9 L1678.2,2917.4 L1680.1,2916.0 L1682.0,2914.5 L1683.9,2913.1 L1685.9,2911.7 L1687.8,2910.2 L1689.7,2908.8 L1691.7,2907.4 L1693.6,2906.0 L1695.6,2904.6 L1697.5,2903.2 L1699.5,2901.8 L1701.5,2900.4 L1703.4,2899.1 L1705.4,2897.7 L1707.4,2896.3 L1709.4,2895.0 L1711.3,2893.6 L1713.3,2892.3 L1715.3,2891.0 L1717.3,2889.6 L1719.3,2888.3 L1721.3,2887.0 L1723.3,2885.7 L1725.3,2884.4 L1727.3,2883.1 L1729.3,2881.8 L1731.3,2880.5 L1733.4,2879.2 L1735.4,2877.9 L1737.4,2876.7 L1739.4,2875.4 L1741.5,2874.1 L1743.5,2872.9 L1745.6,2871.6 L1747.6,2870.4 L1749.6,2869.1 L1751.7,2867.9 L1753.7,2866.7 L1755.8,2865.4 L1757.9,2864.2 L1759.9,2863.0 L1762.0,2861.8 L1764.1,2860.6 L1766.1,2859.5 L1768.2,2858.3 L1770.3,2857.1 L1772.4,2856.0 L1774.5,2854.8 L1776.6,2853.7 L1778.6,2852.5 L1780.7,2851.4 L1782.8,2850.3 L1784.9,2849.2 L1787.1,2848.1 L1789.2,2847.0 L1791.3,2845.9 L1793.4,2844.8 L1795.5,2843.7 L1797.6,2842.6 L1799.7,2841.5 L1801.9,2840.5 L1804.0,2839.4 L1806.1,2838.3 L1808.3,2837.3 L1810.4,2836.2 L1812.5,2835.2 L1814.7,2834.2 L1816.8,2833.1 L1819.0,2832.1 L1821.1,2831.1 L1823.3,2830.0 L1825.4,2829.0 L1827.6,2828.0 L1829.8,2827.0 L1831.9,2825.9 L1834.1,2824.9 L1836.3,2823.9 L1838.4,2822.9 L1840.6,2821.9 L1842.8,2820.9 L1845.0,2819.9 L1847.2,2818.9 L1849.3,2817.9 L1851.5,2816.9 L1853.7,2815.9 L1855.9,2814.9 L1858.1,2813.9 L1860.3,2812.9 L1862.5,2811.9 L1864.7,2810.9 L1866.9,2809.9 L1869.1,2808.9 L1871.4,2807.9 L1873.6,2806.8 L1875.8,2805.8 L1878.0,2804.8 L1880.2,2803.8 L1882.4,2802.8 L1884.7,2801.8 L1886.9,2800.8 L1889.1,2799.8 L1891.4,2798.8 L1893.6,2797.8 L1895.8,2796.8 L1898.1,2795.8 L1900.3,2794.9 L1902.6,2793.9 L1904.8,2792.9 L1907.0,2791.9 L1909.3,2791.0 L1911.5,2790.0 L1913.8,2789.1 L1916.1,2788.1 L1918.3,2787.2 L1920.6,2786.2 L1922.8,2785.3 L1925.1,2784.4 L1927.4,2783.4 L1929.6,2782.5 L1931.9,2781.6 L1934.2,2780.7 L1936.4,2779.7 L1938.7,2778.8 L1941.0,2777.9 L1943.3,2777.0 L1945.6,2776.1 L1947.8,2775.2 L1950.1,2774.3 L1952.4,2773.4 L1954.7,2772.6 L1957.0,2771.7 L1959.3,2770.8 L1961.6,2769.9 L1963.9,2769.0 L1966.2,2768.2 L1968.5,2767.3 L1970.8,2766.5 L1973.1,2765.6 L1975.4,2764.7 L1977.7,2763.9 L1980.0,2763.0 L1982.3,2762.2 L1984.6,2761.4 L1986.9,2760.5 L1989.2,2759.7 L1991.6,2758.9 L1993.9,2758.1 L1996.2,2757.3 L1998.5,2756.5 L2000.8,2755.7 L2003.2,2754.9 L2005.5,2754.1 L2007.8,2753.3 L2010.1,2752.5 L2012.5,2751.7 L2014.8,2751.0 L2017.1,2750.2 L2019.4,2749.4 L2021.8,2748.7 L2024.1,2747.9 L2026.5,2747.1 L2028.8,2746.4 L2031.1,2745.7 L2033.5,2744.9 L2035.8,2744.2 L2038.1,2743.4 L2040.5,2742.7 L2042.8,2742.0 L2045.2,2741.2 L2047.5,2740.5 L2049.9,2739.8 L2052.2,2739.1 L2054.6,2738.4 L2056.9,2737.7 L2059.3,2737.0 L2061.6,2736.3 L2064.0,2735.6 L2066.3,2734.9 L2068.7,2734.2 L2071.1,2733.5 L2073.4,2732.8 L2075.8,2732.1 L2078.1,2731.4 L2080.5,2730.7 L2082.9,2730.1 L2085.2,2729.4 L2087.6,2728.7 L2089.9,2728.1 L2092.3,2727.4 L2094.7,2726.8 L2097.0,2726.1 L2099.4,2725.5 L2101.8,2724.8 L2104.1,2724.2 L2106.5,2723.5 L2108.9,2722.9 L2111.3,2722.3 L2113.6,2721.6 L2116.0,2721.0 L2118.4,2720.4 L2120.7,2719.7 L2123.1,2719.1 L2125.5,2718.5 L2127.9,2717.9 L2130.2,2717.2 L2132.6,2716.6 L2135.0,2716.0 L2137.4,2715.4 L2139.7,2714.8 L2142.1,2714.2 L2144.5,2713.5 L2146.9,2712.9 L2149.3,2712.3 L2151.6,2711.7 L2154.0,2711.1 L2156.4,2710.5 L2158.8,2709.9 L2161.2,2709.4 L2163.5,2708.8 L2165.9,2708.2 L2168.3,2707.6 L2170.7,2707.0 L2173.1,2706.5 L2175.5,2705.9 L2177.8,2705.3 L2180.2,2704.8 L2182.6,2704.2 L2185.0,2703.7 L2187.4,2703.1 L2189.8,2702.6 L2192.1,2702.1 L2194.5,2701.5 L2196.9,2701.0 L2199.3,2700.5 L2201.7,2700.0 L2204.1,2699.5 L2206.4,2699.0 L2208.8,2698.5 L2211.2,2698.1 L2213.6,2697.6 L2216.0,2697.1 L2218.4,2696.6 L2220.7,2696.2 L2223.1,2695.7 L2225.5,2695.2 L2227.9,2694.8 L2230.3,2694.3 L2232.7,2693.9 L2235.0,2693.4 L2237.4,2693.0 L2239.8,2692.5 L2242.2,2692.1 L2244.6,2691.6 L2247.0,2691.2 L2249.3,2690.7 L2251.7,2690.3 L2254.1,2689.8 L2256.5,2689.4 L2258.9,2688.9 L2261.2,2688.5 L2263.6,2688.0 L2266.0,2687.6 L2268.4,2687.1 L2270.8,2686.7 L2273.1,2686.2 L2275.5,2685.7 L2277.9,2685.3 L2280.3,2684.8 L2282.6,2684.4 L2285.0,2683.9 L2287.4,2683.5 L2289.8,2683.0 L2292.1,2682.5 L2294.5,2682.1 L2296.9,2681.6 L2299.2,2681.2 L2301.6,2680.7 L2304.0,2680.3 L2306.4,2679.8 L2308.7,2679.4 L2311.1,2678.9 L2313.5,2678.5 L2315.8,2678.1 L2318.2,2677.6 L2320.6,2677.2 L2322.9,2676.7 L2325.3,2676.3 L2327.6,2675.9 L2330.0,2675.4 L2332.4,2675.0 L2334.7,2674.6 L2337.1,2674.2 L2339.4,2673.7 L2341.8,2673.3 L2344.2,2672.9 L2346.5,2672.5 L2348.9,2672.1 L2351.2,2671.7 L2353.6,2671.3 L2355.9,2670.9 L2358.3,2670.5 L2360.6,2670.1 L2363.0,2669.7 L2365.3,2669.3 L2367.7,2668.9 L2370.0,2668.5 L2372.3,2668.2 L2374.7,2667.8 L2377.0,2667.4 L2379.4,2667.0 L2381.7,2666.7 L2384.0,2666.3 L2386.4,2665.9 L2388.7,2665.6 L2391.0,2665.2 L2393.4,2664.8 L2395.7,2664.5 L2398.0,2664.1 L2399.9,2663.8" fill="none" stroke="#009e73" stroke-width="6.00" stroke-linejoin="round" stroke-linecap="butt"/>
<path d="M409.6,3800.0 L1306.0,3800.0 L1310.6,3667.0 L1313.6,3565.0 L1316.1,3489.8 L1316.9,3487.6 L1317.8,3485.3 L1318.6,3483.0 L1319.4,3480.7 L1320.2,3478.5 L1321.0,3476.2 L1321.8,3473.9 L1322.6,3471.6 L1323.4,3469.3 L1324.2,3467.0 L1325.0,3464.7 L1325.8,3462.4 L1326.6,3460.1 L1327.4,3457.8 L1328.2,3455.5 L1329.0,3453.1 L1329.7,3450.8 L1330.5,3448.5 L1331.3,3446.2 L1332.1,3443.8 L1332.8,3441.5 L1333.6,3439.2 L1334.4,3436.9 L1335.1,3434.5 L1335.9,3432.2 L1336.7,3429.8 L1337.4,3427.5 L1338.2,3425.2 L1339.0,3422.8 L1339.7,3420.5 L1340.5,3418.2 L1341.3,3415.8 L1342.0,3413.5 L1342.8,3411.1 L1343.6,3408.8 L1344.3,3406.4 L1345.1,3404.1 L1345.9,3401.8 L1346.7,3399.4 L1347.4,3397.1 L1348.2,3394.7 L1349.0,3392.4 L1349.8,3390.1 L1350.6,3387.7 L1351.3,3385.4 L1352.1,3383.0 L1352.9,3380.7 L1353.7,3378.4 L1354.5,3376.0 L1355.3,3373.7 L1356.1,3371.4 L1356.9,3369.1 L1357.7,3366.7 L1358.5,3364.4 L1359.3,3362.1 L1360.2,3359.8 L1361.0,3357.4 L1361.8,3355.1 L1362.7,3352.8 L1363.5,3350.5 L1364.3,3348.2 L1365.2,3345.9 L1366.0,3343.6 L1366.9,3341.3 L1367.8,3339.0 L1368.6,3336.7 L1369.5,3334.5 L1370.4,3332.2 L1371.3,3329.9 L1372.2,3327.6 L1373.1,3325.4 L1374.0,3323.1 L1374.9,3320.8 L1375.9,3318.6 L1376.8,3316.3 L1377.7,3314.1 L1378.7,3311.8 L1379.6,3309.6 L1380.6,3307.4 L1381.5,3305.1 L1382.5,3302.9 L1383.5,3300.7 L1384.5,3298.5 L1385.5,3296.3 L1386.5,3294.1 L1387.5,3291.9 L1388.5,3289.7 L1389.5,3287.5 L1390.5,3285.3 L1391.6,3283.1 L1392.6,3280.9 L1393.7,3278.7 L1394.7,3276.6 L1395.8,3274.4 L1396.8,3272.2 L1397.9,3270.0 L1399.0,3267.9 L1400.1,3265.7 L1401.2,3263.6 L1402.3,3261.4 L1403.4,3259.3 L1404.5,3257.1 L1405.6,3255.0 L1406.7,3252.8 L1407.8,3250.7 L1408.9,3248.6 L1410.1,3246.4 L1411.2,3244.3 L1412.4,3242.2 L1413.5,3240.0 L1414.7,3237.9 L1415.8,3235.8 L1417.0,3233.7 L1418.2,3231.6 L1419.4,3229.5 L1420.5,3227.3 L1421.7,3225.2 L1422.9,3223.1 L1424.1,3221.0 L1425.3,3218.9 L1426.5,3216.8 L1427.8,3214.7 L1429.0,3212.6 L1430.2,3210.5 L1431.4,3208.5 L1432.7,3206.4 L1433.9,3204.3 L1435.2,3202.2 L1436.4,3200.1 L1437.7,3198.0 L1438.9,3195.9 L1440.2,3193.9 L1441.5,3191.8 L1442.7,3189.7 L1444.0,3187.6 L1445.3,3185.6 L1446.6,3183.5 L1447.9,3181.4 L1449.2,3179.3 L1450.5,3177.3 L1451.8,3175.2 L1453.1,3173.1 L1454.4,3171.1 L1455.7,3169.0 L1457.0,3167.0 L1458.3,3164.9 L1459.7,3162.9 L1461.0,3160.8 L1462.4,3158.8 L1463.7,3156.7 L1465.1,3154.7 L1466.4,3152.6 L1467.8,3150.6 L1469.1,3148.5 L1470.5,3146.5 L1471.9,3144.5 L1473.2,3142.4 L1474.6,3140.4 L1476.0,3138.4 L1477.4,3136.3 L1478.8,3134.3 L1480.2,3132.3 L1481.6,3130.3 L1483.0,3128.3 L1484.4,3126.2 L1485.8,3124.2 L1487.3,3122.2 L1488.7,3120.2 L1490.1,3118.2 L1491.6,3116.2 L1493.0,3114.2 L1494.4,3112.2 L1495.9,3110.2 L1497.3,3108.2 L1498.8,3106.2 L1500.3,3104.3 L1501.7,3102.3 L1503.2,3100.3 L1504.7,3098.3 L1506.1,3096.4 L1507.6,3094.4 L1509.1,3092.4 L1510.6,3090.5 L1512.1,3088.5 L1513.6,3086.5 L1515.1,3084.6 L1516.6,3082.6 L1518.1,3080.7 L1519.7,3078.8 L1521.2,3076.8 L1522.7,3074.9 L1524.3,3073.0 L1525.8,3071.0 L1527.3,3069.1 L1528.9,3067.2 L1530.4,3065.3 L1532.0,3063.3 L1533.5,3061.4 L1535.1,3059.5 L1536.7,3057.6 L1538.3,3055.7 L1539.8,3053.8 L1541.4,3051.9 L1543.0,3050.1 L1544.6,3048.2 L1546.2,3046.3 L1547.8,3044.4 L1549.4,3042.5 L1551.0,3040.7 L1552.6,3038.8 L1554.2,3037.0 L1555.8,3035.1 L1557.5,3033.3 L1559.1,3031.4 L1560.7,3029.6 L1562.4,3027.7 L1564.0,3025.9 L1565.7,3024.1 L1567.3,3022.2 L1569.0,3020.4 L1570.6,3018.6 L1572.3,3016.8 L1574.0,3015.0 L1575.6,3013.2 L1577.3,3011.4 L1579.0,3009.6 L1580.7,3007.8 L1582.4,3006.0 L1584.1,3004.2 L1585.8,3002.5 L1587.5,3000.7 L1589.2,2998.9 L1590.9,2997.2 L1592.6,2995.4 L1594.3,2993.7 L1596.1,2991.9 L1597.8,2990.2 L1599.5,2988.5 L1601.3,2986.7 L1603.0,2985.0 L1604.8,2983.3 L1606.5,2981.6 L1608.3,2979.9 L1610.0,2978.2 L1611.8,2976.5 L1613.6,2974.8 L1615.3,2973.1 L1617.1,2971.4 L1618.9,2969.7 L1620.7,2968.1 L1622.5,2966.4 L1624.3,2964.8 L1626.1,2963.1 L1627.9,2961.5 L1629.7,2959.8 L1631.5,2958.2 L1633.3,2956.5 L1635.1,2954.9 L1637.0,2953.3 L1638.8,2951.7 L1640.6,2950.1 L1642.5,2948.5 L1644.3,2946.9 L1646.1,2945.3 L1648.0,2943.7 L1649.9,2942.1 L1651.7,2940.6 L1653.6,2939.0 L1655.4,2937.4 L1657.3,2935.9 L1659.2,2934.3 L1661.1,2932.8 L1663.0,2931.3 L1664.8,2929.7 L1666.7,2928.2 L1668.6,2926.7 L1670.5,2925.2 L1672.4,2923.7 L1674.3,2922.2 L1676.3,2920.7 L1678.2,2919.2 L1680.1,2917.7 L1682.0,2916.2 L1683.9,2914.7 L1685.9,2913.3 L1687.8,2911.8 L1689.7,2910.4 L1691.7,2908.9 L1693.6,2907.5 L1695.6,2906.0 L1697.5,2904.6 L1699.5,2903.2 L1701.5,2901.7 L1703.4,2900.3 L1705.4,2898.9 L1707.4,2897.5 L1709.4,2896.1 L1711.3,2894.7 L1713.3,2893.3 L1715.3,2891.9 L1717.3,2890.5 L1719.3,2889.2 L1721.3,2887.8 L1723.3,2886.4 L1725.3,2885.1 L1727.3,2883.7 L1729.3,2882.4 L1731.3,2881.0 L1733.4,2879.7 L1735.4,2878.3 L1737.4,2877.0 L1739.4,2875.7 L1741.5,2874.4 L1743.5,2873.1 L1745.6,2871.7 L1747.6,2870.4 L1749.6,2869.1 L1751.7,2867.8 L1753.7,2866.6 L1755.8,2865.3 L1757.9,2864.0 L1759.9,2862.7 L1762.0,2861.5 L1764.1,2860.2 L1766.1,2858.9 L1768.2,2857.7 L1770.3,2856.4 L1772.4,2855.2 L1774.5,2854.0 L1776.6,2852.7 L1778.6,2851.5 L1780.7,2850.3 L1782.8,2849.1 L1784.9,2847.8 L1787.1,2846.6 L1789.2,2845.4 L1791.3,2844.2 L1793.4,2843.0 L1795.5,2841.8 L1797.6,2840.7 L1799.7,2839.5 L1801.9,2838.3 L1804.0,2837.1 L1806.1,2836.0 L1808.3,2834.8 L1810.4,2833.7 L1812.5,2832.5 L1814.7,2831.4 L1816.8,2830.2 L1819.0,2829.1 L1821.1,2827.9 L1823.3,2826.8 L1825.4,2825.7 L1827.6,2824.6 L1829.8,2823.5 L1831.9,2822.3 L1834.1,2821.2 L1836.3,2820.1 L1838.4,2819.0 L1840.6,2817.9 L1842.8,2816.9 L1845.0,2815.8 L1847.2,2814.7 L1849.3,2813.6 L1851.5,2812.5 L1853.7,2811.5 L1855.9,2810.4 L1858.1,2809.4 L1860.3,2808.3 L1862.5,2807.3 L1864.7,2806.2 L1866.9,2805.2 L1869.1,2804.1 L1871.4,2803.1 L1873.6,2802.1 L1875.8,2801.0 L1878.0,2800.0 L1880.2,2799.0 L1882.4,2798.0 L1884.7,2797.0 L1886.9,2796.0 L1889.1,2795.0 L1891.4,2794.0 L1893.6,2793.0 L1895.8,2792.0 L1898.1,2791.0 L1900.3,2790.1 L1902.6,2789.1 L1904.8,2788.1 L1907.0,2787.1 L1909.3,2786.2 L1911.5,2785.2 L1913.8,2784.3 L1916.1,2783.3 L1918.3,2782.4 L1920.6,2781.4 L1922.8,2780.5 L1925.1,2779.6 L1927.4,2778.6 L1929.6,2777.7 L1931.9,2776.8 L1934.2,2775.9 L1936.4,2774.9 L1938.7,2774.0 L1941.0,2773.1 L1943.3,2772.2 L1945.6,2771.3 L1947.8,2770.4 L1950.1,2769.5 L1952.4,2768.6 L1954.7,2767.8 L1957.0,2766.9 L1959.3,2766.0 L1961.6,2765.1 L1963.9,2764.2 L1966.2,2763.4 L1968.5,2762.5 L1970.8,2761.7 L1973.1,2760.8 L1975.4,2759.9 L1977.7,2759.1 L1980.0,2758.2 L1982.3,2757.4 L1984.6,2756.6 L1986.9,2755.7 L1989.2,2754.9 L1991.6,2754.1 L1993.9,2753.2 L1996.2,2752.4 L1998.5,2751.6 L2000.8,2750.8 L2003.2,2750.0 L2005.5,2749.2 L2007.8,2748.4 L2010.1,2747.6 L2012.5,2746.8 L2014.8,2746.0 L2017.1,2745.2 L2019.4,2744.4 L2021.8,2743.6 L2024.1,2742.8 L2026.5,2742.0 L2028.8,2741.3 L2031.1,2740.5 L2033.5,2739.7 L2035.8,2738.9 L2038.1,2738.2 L2040.5,2737.4 L2042.8,2736.7 L2045.2,2735.9 L2047.5,2735.2 L2049.9,2734.4 L2052.2,2733.7 L2054.6,2732.9 L2056.9,2732.2 L2059.3,2731.4 L2061.6,2730.7 L2064.0,2730.0 L2066.3,2729.3 L2068.7,2728.5 L2071.1,2727.8 L2073.4,2727.1 L2075.8,2726.4 L2078.1,2725.7 L2080.5,2725.0 L2082.9,2724.3 L2085.2,2723.5 L2087.6,2722.8 L2089.9,2722.1 L2092.3,2721.5 L2094.7,2720.8 L2097.0,2720.1 L2099.4,2719.4 L2101.8,2718.7 L2104.1,2718.0 L2106.5,2717.3 L2108.9,2716.7 L2111.3,2716.0 L2113.6,2715.3 L2116.0,2714.6 L2118.4,2714.0 L2120.7,2713.3 L2123.1,2712.7 L2125.5,2712.0 L2127.9,2711.3 L2130.2,2710.7 L2132.6,2710.0 L2135.0,2709.4 L2137.4,2708.7 L2139.7,2708.1 L2142.1,2707.5 L2144.5,2706.8 L2146.9,2706.2 L2149.3,2705.6 L2151.6,2704.9 L2154.0,2704.3 L2156.4,2703.7 L2158.8,2703.1 L2161.2,2702.4 L2163.5,2701.8 L2165.9,2701.2 L2168.3,2700.6 L2170.7,2700.0 L2173.1,2699.4 L2175.5,2698.8 L2177.8,2698.1 L2180.2,2697.5 L2182.6,2696.9 L2185.0,2696.3 L2187.4,2695.7 L2189.8,2695.2 L2192.1,2694.6 L2194.5,2694.0 L2196.9,2693.4 L2199.3,2692.8 L2201.7,2692.2 L2204.1,2691.6 L2206.4,2691.1 L2208.8,2690.5 L2211.2,2689.9 L2213.6,2689.3 L2216.0,2688.8 L2218.4,2688.2 L2220.7,2687.6 L2223.1,2687.1 L2225.5,2686.5 L2227.9,2685.9 L2230.3,2685.4 L2232.7,2684.8 L2235.0,2684.3 L2237.4,2683.7 L2239.8,2683.2 L2242.2,2682.6 L2244.6,2682.1 L2247.0,2681.5 L2249.3,2681.0 L2251.7,2680.4 L2254.1,2679.9 L2256.5,2679.3 L2258.9,2678.8 L2261.2,2678.3 L2263.6,2677.7 L2266.0,2677.2 L2268.4,2676.7 L2270.8,2676.1 L2273.1,2675.6 L2275.5,2675.1 L2277.9,2674.6 L2280.3,2674.0 L2282.6,2673.5 L2285.0,2673.0 L2287.4,2672.5 L2289.8,2672.0 L2292.1,2671.5 L2294.5,2670.9 L2296.9,2670.4 L2299.2,2669.9 L2301.6,2669.4 L2304.0,2668.9 L2306.4,2668.4 L2308.7,2667.9 L2311.1,2667.4 L2313.5,2666.9 L2315.8,2666.4 L2318.2,2665.9 L2320.6,2665.4 L2322.9,2664.9 L2325.3,2664.4 L2327.6,2663.9 L2330.0,2663.4 L2332.4,2662.9 L2334.7,2662.4 L2337.1,2661.9 L2339.4,2661.5 L2341.8,2661.0 L2344.2,2660.5 L2346.5,2660.0 L2348.9,2659.5 L2351.2,2659.0 L2353.6,2658.6 L2355.9,2658.1 L2358.3,2657.6 L2360.6,2657.1 L2363.0,2656.7 L2365.3,2656.2 L2367.7,2655.7 L2370.0,2655.2 L2372.3,2654.8 L2374.7,2654.3 L2377.0,2653.8 L2379.4,2653.3 L2381.7,2652.9 L2384.0,2652.4 L2386.4,2651.9 L2388.7,2651.5 L2391.0,2651.0 L2393.4,2650.6 L2395.7,2650.1 L2398.0,2649.6 L2399.9,2649.3" fill="none" stroke="#56b4e9" stroke-width="6.00" stroke-linejoin="round" stroke-linecap="butt"/>
<rect x="409.6" y="58.0" width="1991.7" height="3743.1" fill="none" stroke="#000" stroke-width="5.2"/>
<path d="M409.6,1305.0 H2401.3 M409.6,2551.8 H2401.3" stroke="#000" stroke-width="5.2"/>
<line x1="2257.0" y1="327.0" x2="2339.5" y2="327.0" stroke="#9400d3" stroke-width="5.7"/>
<line x1="2257.0" y1="454.8" x2="2339.5" y2="454.8" stroke="#009e73" stroke-width="5.7"/>
<line x1="2257.0" y1="582.5" x2="2339.5" y2="582.5" stroke="#56b4e9" stroke-width="5.7"/>
<line x1="2257.0" y1="710.2" x2="2339.5" y2="710.2" stroke="#e69f00" stroke-width="5.7"/>
<line x1="1012.7" y1="1433.5" x2="1094.7" y2="1433.5" stroke="#9400d3" stroke-width="5.7"/>
<line x1="1012.7" y1="1561.3" x2="1094.7" y2="1561.3" stroke="#009e73" stroke-width="5.7"/>
<line x1="1012.7" y1="1689.1" x2="1094.7" y2="1689.1" stroke="#56b4e9" stroke-width="5.7"/>
<line x1="1012.7" y1="1816.9" x2="1094.7" y2="1816.9" stroke="#e69f00" stroke-width="5.7"/>
<line x1="1013.0" y1="2706.1" x2="1094.7" y2="2706.1" stroke="#9400d3" stroke-width="5.7"/>
<line x1="1013.0" y1="2834.0" x2="1094.7" y2="2834.0" stroke="#009e73" stroke-width="5.7"/>
<line x1="1013.0" y1="2961.7" x2="1094.7" y2="2961.7" stroke="#56b4e9" stroke-width="5.7"/>
<g><text x="142.89" y="1262.00" font-size="105.71" stroke-width="1.60"  textLength="204.16" lengthAdjust="spacingAndGlyphs">−0.4</text><text x="142.76" y="1075.95" font-size="105.71" stroke-width="1.60"  textLength="208.89" lengthAdjust="spacingAndGlyphs">−0.2</text><text x="297.15" y="890.20" font-size="103.00" stroke-width="1.60"  textLength="52.12" lengthAdjust="spacingAndGlyphs">0</text><text x="220.76" y="704.15" font-size="103.00" stroke-width="1.60"  textLength="130.29" lengthAdjust="spacingAndGlyphs">0.2</text><text x="216.63" y="518.10" font-size="103.00" stroke-width="1.60"  textLength="130.29" lengthAdjust="spacingAndGlyphs">0.4</text><text x="218.11" y="332.05" font-size="103.00" stroke-width="1.60"  textLength="130.29" lengthAdjust="spacingAndGlyphs">0.6</text><text x="218.97" y="146.00" font-size="103.00" stroke-width="1.60"  textLength="130.29" lengthAdjust="spacingAndGlyphs">0.8</text><text x="142.89" y="2509.42" font-size="105.71" stroke-width="1.60"  textLength="204.16" lengthAdjust="spacingAndGlyphs">−0.4</text><text x="142.76" y="2323.26" font-size="105.71" stroke-width="1.60"  textLength="208.89" lengthAdjust="spacingAndGlyphs">−0.2</text><text x="297.15" y="2137.40" font-size="103.00" stroke-width="1.60"  textLength="52.12" lengthAdjust="spacingAndGlyphs">0</text><text x="220.76" y="1951.24" font-size="103.00" stroke-width="1.60"  textLength="130.29" lengthAdjust="spacingAndGlyphs">0.2</text><text x="216.63" y="1765.08" font-size="103.00" stroke-width="1.60"  textLength="130.29" lengthAdjust="spacingAndGlyphs">0.4</text><text x="218.11" y="1578.92" font-size="103.00" stroke-width="1.60"  textLength="130.29" lengthAdjust="spacingAndGlyphs">0.6</text><text x="218.97" y="1392.76" font-size="103.00" stroke-width="1.60"  textLength="130.29" lengthAdjust="spacingAndGlyphs">0.8</text><text x="298.65" y="3823.20" font-size="103.00" stroke-width="1.60"  textLength="52.12" lengthAdjust="spacingAndGlyphs">0</text><text x="300.43" y="3666.52" font-size="103.00" stroke-width="1.60"  textLength="52.12" lengthAdjust="spacingAndGlyphs">2</text><text x="296.31" y="3509.84" font-size="103.00" stroke-width="1.60"  textLength="52.12" lengthAdjust="spacingAndGlyphs">4</text><text x="297.79" y="3353.16" font-size="103.00" stroke-width="1.60"  textLength="52.12" lengthAdjust="spacingAndGlyphs">6</text><text x="298.65" y="3196.48" font-size="103.00" stroke-width="1.60"  textLength="52.12" lengthAdjust="spacingAndGlyphs">8</text><text x="246.53" y="3039.80" font-size="103.00" stroke-width="1.60"  textLength="104.24" lengthAdjust="spacingAndGlyphs">10</text><text x="248.32" y="2883.12" font-size="103.00" stroke-width="1.60"  textLength="104.24" lengthAdjust="spacingAndGlyphs">12</text><text x="244.19" y="2726.44" font-size="103.00" stroke-width="1.60"  textLength="104.24" lengthAdjust="spacingAndGlyphs">14</text><text x="443.35" y="3924.60" font-size="103.00" stroke-width="1.60"  textLength="130.29" lengthAdjust="spacingAndGlyphs">1.4</text><text x="642.59" y="3924.60" font-size="103.00" stroke-width="1.60"  textLength="130.29" lengthAdjust="spacingAndGlyphs">1.6</text><text x="841.83" y="3924.60" font-size="103.00" stroke-width="1.60"  textLength="130.29" lengthAdjust="spacingAndGlyphs">1.8</text><text x="1080.16" y="3924.60" font-size="103.00" stroke-width="1.60"  textLength="52.12" lengthAdjust="spacingAndGlyphs">2</text><text x="1240.31" y="3924.60" font-size="103.00" stroke-width="1.60"  textLength="130.29" lengthAdjust="spacingAndGlyphs">2.2</text><text x="1439.55" y="3924.60" font-size="103.00" stroke-width="1.60"  textLength="130.29" lengthAdjust="spacingAndGlyphs">2.4</text><text x="1638.79" y="3924.60" font-size="103.00" stroke-width="1.60"  textLength="130.29" lengthAdjust="spacingAndGlyphs">2.6</text><text x="1838.03" y="3924.60" font-size="103.00" stroke-width="1.60"  textLength="130.29" lengthAdjust="spacingAndGlyphs">2.8</text><text x="2076.36" y="3924.60" font-size="103.00" stroke-width="1.60"  textLength="52.12" lengthAdjust="spacingAndGlyphs">3</text><text x="2236.51" y="3924.60" font-size="103.00" stroke-width="1.60"  textLength="130.29" lengthAdjust="spacingAndGlyphs">3.2</text><text x="1365.41" y="4077.44" font-size="98.14" stroke-width="1.60" font-style="italic"  textLength="33.70" lengthAdjust="spacingAndGlyphs">ϵ</text><text x="1405.55" y="4060.99" font-size="81.54" stroke-width="0.60"  textLength="32.23" lengthAdjust="spacingAndGlyphs">*</text><text transform="translate(150.88 774.57) rotate(-90)" x="0" y="0" font-size="114.75" stroke-width="1.60"  textLength="145.63" lengthAdjust="spacingAndGlyphs">OP</text><text transform="translate(149.02 630.87) rotate(-90)" x="0" y="0" font-size="100.01" stroke-width="1.60"  textLength="42.41" lengthAdjust="spacingAndGlyphs">s</text><text transform="translate(150.88 2020.97) rotate(-90)" x="0" y="0" font-size="114.75" stroke-width="1.60"  textLength="145.63" lengthAdjust="spacingAndGlyphs">OP</text><text transform="translate(149.02 1877.27) rotate(-90)" x="0" y="0" font-size="100.01" stroke-width="1.60"  textLength="42.41" lengthAdjust="spacingAndGlyphs">s</text><text transform="translate(189.17 3311.36) rotate(-90)" x="0" y="0" font-size="105.93" stroke-width="1.60" font-style="italic"  textLength="50.89" lengthAdjust="spacingAndGlyphs">θ</text><text transform="translate(151.99 3215.73) rotate(-90)" x="0" y="0" font-size="75.66" stroke-width="0.60"  textLength="22.17" lengthAdjust="spacingAndGlyphs">(</text><text transform="translate(151.90 3187.60) rotate(-90)" x="0" y="0" font-size="71.93" stroke-width="0.60" font-style="italic"  textLength="64.16" lengthAdjust="spacingAndGlyphs">M</text><text transform="translate(151.99 3113.72) rotate(-90)" x="0" y="0" font-size="75.66" stroke-width="0.60"  textLength="20.87" lengthAdjust="spacingAndGlyphs">)</text><text x="464.28" y="194.76" font-size="111.50" stroke-width="1.60"  textLength="30.47" lengthAdjust="spacingAndGlyphs">(</text><text x="497.08" y="195.00" font-size="102.09" stroke-width="1.60"  textLength="50.79" lengthAdjust="spacingAndGlyphs">a</text><text x="549.65" y="194.76" font-size="111.50" stroke-width="1.60"  textLength="30.47" lengthAdjust="spacingAndGlyphs">)</text><text x="464.28" y="1441.39" font-size="111.39" stroke-width="1.60"  textLength="30.47" lengthAdjust="spacingAndGlyphs">(</text><text x="498.60" y="1439.80" font-size="102.19" stroke-width="1.60"  textLength="54.34" lengthAdjust="spacingAndGlyphs">b</text><text x="555.05" y="1441.39" font-size="111.39" stroke-width="1.60"  textLength="30.47" lengthAdjust="spacingAndGlyphs">)</text><text x="462.81" y="2691.89" font-size="113.26" stroke-width="1.60"  textLength="32.54" lengthAdjust="spacingAndGlyphs">(</text><text x="496.77" y="2689.84" font-size="98.14" stroke-width="1.60"  textLength="45.81" lengthAdjust="spacingAndGlyphs">c</text><text x="544.95" y="2691.89" font-size="113.26" stroke-width="1.60"  textLength="30.47" lengthAdjust="spacingAndGlyphs">)</text><text x="455.90" y="3743.40" font-size="107.97" stroke-width="1.60"  textLength="40.59" lengthAdjust="spacingAndGlyphs">I</text><text x="491.36" y="3742.44" font-size="97.93" stroke-width="1.60"  textLength="94.18" lengthAdjust="spacingAndGlyphs">so</text><text x="757.27" y="3744.20" font-size="110.88" stroke-width="1.60"  textLength="73.47" lengthAdjust="spacingAndGlyphs">N</text><text x="834.25" y="3759.57" font-size="74.64" stroke-width="0.60"  textLength="49.80" lengthAdjust="spacingAndGlyphs">U</text><text x="1454.70" y="3743.80" font-size="108.74" stroke-width="1.60"  textLength="75.19" lengthAdjust="spacingAndGlyphs">N</text><text x="1529.15" y="3757.40" font-size="69.95" stroke-width="0.60"  textLength="99.37" lengthAdjust="spacingAndGlyphs">PT</text><text x="2049.56" y="348.92" font-size="110.73" stroke-width="1.60" font-style="italic"  textLength="53.05" lengthAdjust="spacingAndGlyphs">S</text><text x="2117.45" y="311.60" font-size="67.54" stroke-width="0.60" font-style="italic"  textLength="65.97" lengthAdjust="spacingAndGlyphs">zz</text><text x="2104.16" y="373.70" font-size="65.58" stroke-width="0.60" font-style="italic"  textLength="91.02" lengthAdjust="spacingAndGlyphs">nn</text><text x="2008.52" y="477.70" font-size="112.97" stroke-width="1.60" font-style="italic"  textLength="54.75" lengthAdjust="spacingAndGlyphs">S</text><text x="2078.03" y="438.90" font-size="67.32" stroke-width="0.60" font-style="italic"  textLength="64.36" lengthAdjust="spacingAndGlyphs">zz</text><text x="2064.78" y="501.10" font-size="65.79" stroke-width="0.60" font-style="italic"  textLength="128.76" lengthAdjust="spacingAndGlyphs">mm</text><text x="2057.12" y="605.10" font-size="113.12" stroke-width="1.60" font-style="italic"  textLength="54.64" lengthAdjust="spacingAndGlyphs">S</text><text x="2128.01" y="566.30" font-size="67.54" stroke-width="0.60" font-style="italic"  textLength="62.86" lengthAdjust="spacingAndGlyphs">zz</text><text x="2110.57" y="628.40" font-size="66.44" stroke-width="0.60" font-style="italic"  textLength="46.26" lengthAdjust="spacingAndGlyphs">ll</text><text x="2017.01" y="739.60" font-size="110.43" stroke-width="1.60"  textLength="84.21" lengthAdjust="spacingAndGlyphs">Δ</text><text x="2102.75" y="702.10" font-size="74.22" stroke-width="0.60"  textLength="23.86" lengthAdjust="spacingAndGlyphs">(</text><text x="2132.55" y="702.70" font-size="67.54" stroke-width="0.60" font-style="italic"  textLength="29.45" lengthAdjust="spacingAndGlyphs">z</text><text x="2165.64" y="702.10" font-size="74.22" stroke-width="0.60"  textLength="24.38" lengthAdjust="spacingAndGlyphs">)</text><text x="760.83" y="1457.50" font-size="112.97" stroke-width="1.60" font-style="italic"  textLength="58.67" lengthAdjust="spacingAndGlyphs">S</text><text x="834.11" y="1418.40" font-size="65.35" stroke-width="0.60" font-style="italic"  textLength="64.95" lengthAdjust="spacingAndGlyphs">yy</text><text x="819.67" y="1481.10" font-size="66.43" stroke-width="0.60" font-style="italic"  textLength="129.29" lengthAdjust="spacingAndGlyphs">mm</text><text x="806.99" y="1586.82" font-size="111.03" stroke-width="1.60" font-style="italic"  textLength="56.02" lengthAdjust="spacingAndGlyphs">S</text><text x="880.21" y="1537.46" font-size="65.50" stroke-width="0.60" font-style="italic"  textLength="64.95" lengthAdjust="spacingAndGlyphs">yy</text><text x="863.37" y="1611.70" font-size="67.16" stroke-width="0.60" font-style="italic"  textLength="45.22" lengthAdjust="spacingAndGlyphs">ll</text><text x="801.92" y="1711.02" font-size="111.03" stroke-width="1.60" font-style="italic"  textLength="54.64" lengthAdjust="spacingAndGlyphs">S</text><text x="875.00" y="1674.08" font-size="67.28" stroke-width="0.60" font-style="italic"  textLength="63.77" lengthAdjust="spacingAndGlyphs">yy</text><text x="862.11" y="1737.30" font-size="66.64" stroke-width="0.60" font-style="italic"  textLength="86.69" lengthAdjust="spacingAndGlyphs">nn</text><text x="771.55" y="1845.30" font-size="107.25" stroke-width="1.60"  textLength="80.24" lengthAdjust="spacingAndGlyphs">Δ</text><text x="857.16" y="1809.52" font-size="75.55" stroke-width="0.60"  textLength="22.30" lengthAdjust="spacingAndGlyphs">(</text><text x="887.16" y="1808.90" font-size="65.35" stroke-width="0.60" font-style="italic"  textLength="28.51" lengthAdjust="spacingAndGlyphs">y</text><text x="920.64" y="1809.52" font-size="75.55" stroke-width="0.60"  textLength="22.30" lengthAdjust="spacingAndGlyphs">)</text><text x="802.70" y="2736.18" font-size="104.80" stroke-width="1.60" font-style="italic"  textLength="50.30" lengthAdjust="spacingAndGlyphs">θ</text><text x="857.61" y="2699.10" font-size="74.22" stroke-width="0.60"  textLength="21.13" lengthAdjust="spacingAndGlyphs">(</text><text x="888.87" y="2697.95" font-size="67.43" stroke-width="0.60" font-style="italic"  textLength="29.09" lengthAdjust="spacingAndGlyphs">y</text><text x="919.99" y="2699.10" font-size="74.22" stroke-width="0.60"  textLength="22.82" lengthAdjust="spacingAndGlyphs">)</text><text x="804.04" y="2863.58" font-size="104.94" stroke-width="1.60" font-style="italic"  textLength="48.89" lengthAdjust="spacingAndGlyphs">θ</text><text x="857.39" y="2826.50" font-size="74.22" stroke-width="0.60"  textLength="22.82" lengthAdjust="spacingAndGlyphs">(</text><text x="885.50" y="2827.70" font-size="69.94" stroke-width="0.60" font-style="italic"  textLength="31.16" lengthAdjust="spacingAndGlyphs">z</text><text x="919.99" y="2826.50" font-size="74.22" stroke-width="0.60"  textLength="22.82" lengthAdjust="spacingAndGlyphs">)</text><text x="793.15" y="2990.99" font-size="103.25" stroke-width="1.60" font-style="italic"  textLength="48.78" lengthAdjust="spacingAndGlyphs">θ</text><text x="846.71" y="2954.79" font-size="75.66" stroke-width="0.60"  textLength="21.13" lengthAdjust="spacingAndGlyphs">(</text><text x="875.61" y="2955.10" font-size="71.32" stroke-width="0.60" font-style="italic"  textLength="43.38" lengthAdjust="spacingAndGlyphs">L</text><text x="919.99" y="2954.79" font-size="75.66" stroke-width="0.60"  textLength="22.82" lengthAdjust="spacingAndGlyphs">)</text></g>
</svg></body></html>
